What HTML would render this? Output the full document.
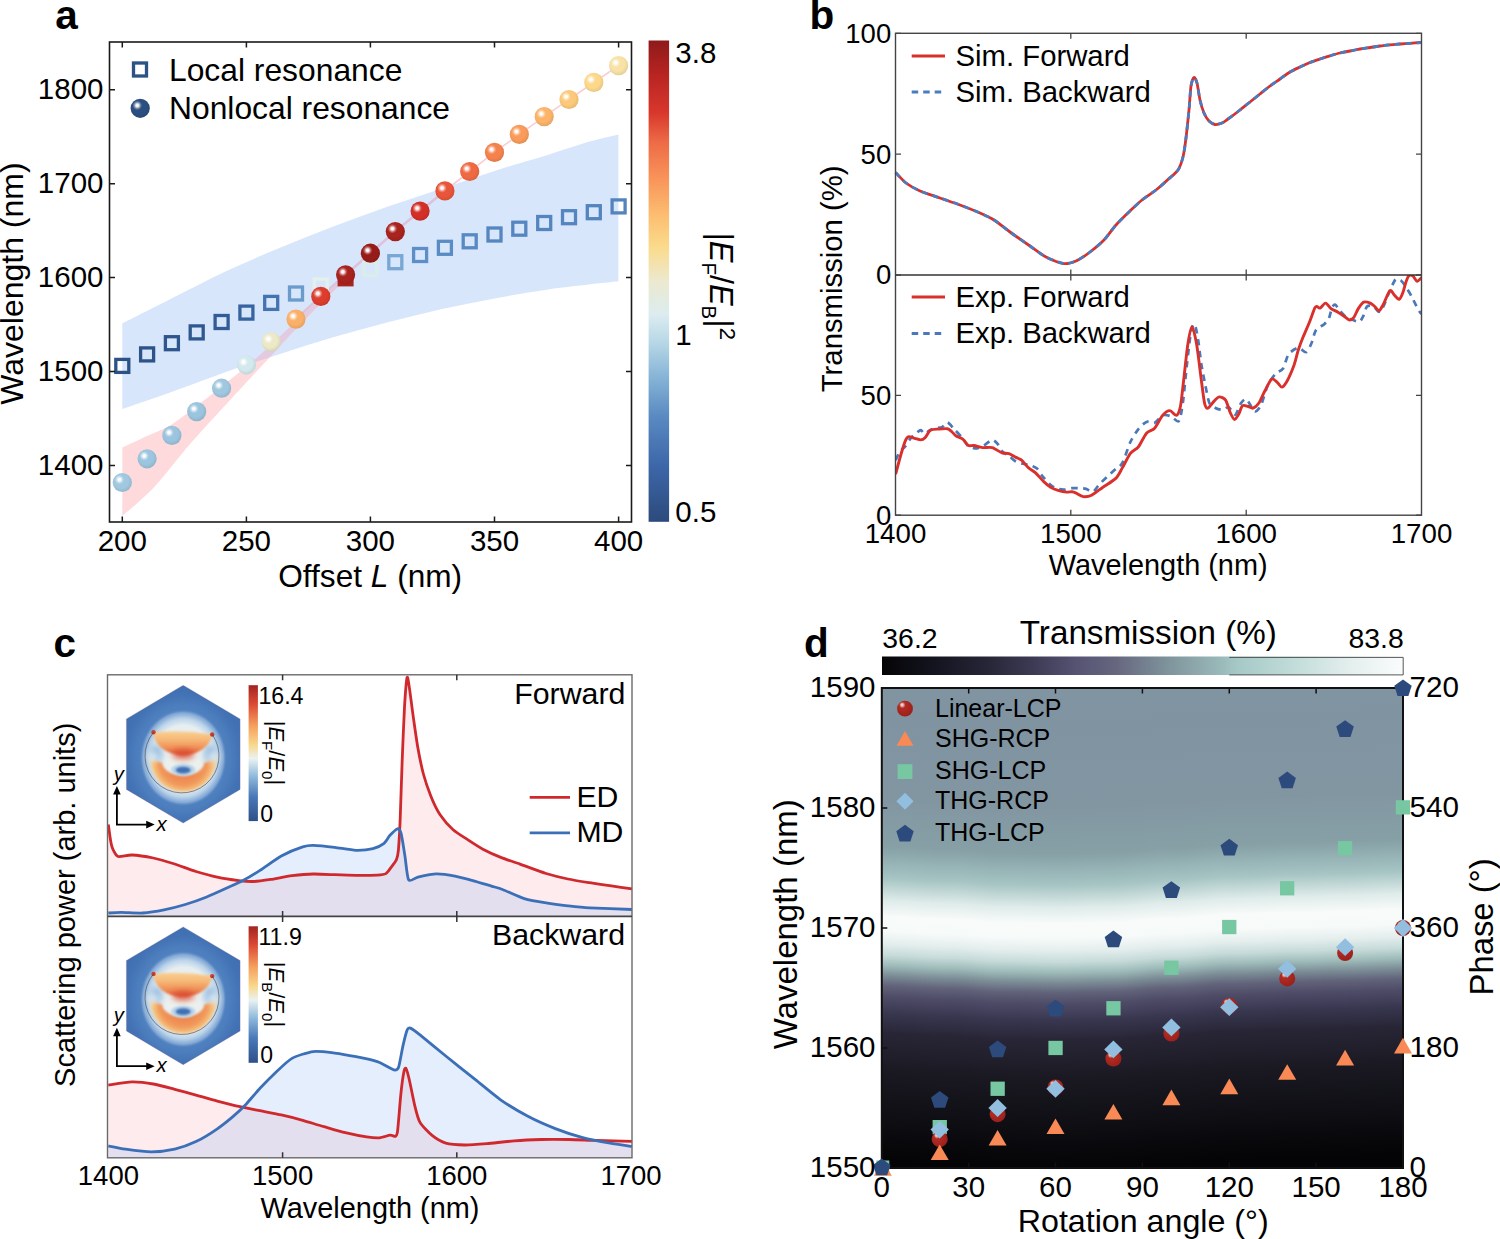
<!DOCTYPE html>
<html><head><meta charset="utf-8"><style>
html,body{margin:0;padding:0;background:#fff;}
svg{display:block;font-family:"Liberation Sans", sans-serif;}
</style></head><body>
<svg width="1500" height="1239" viewBox="0 0 1500 1239">
<defs><clipPath id="clipBlue"><path d="M122.3,323.4 C130.6,319.2 154.7,306.9 172,298.2 C189.3,289.5 208,279.6 226,271.2 C244,262.8 262,255.3 280,247.8 C298,240.3 316,233.1 334,226.2 C352,219.3 370,212.7 388,206.4 C406,200.1 424,194.4 442,188.4 C460,182.4 478,176.1 496,170.4 C514,164.7 534.4,159 550,154.2 C565.6,149.4 578.2,144.9 589.6,141.6 C601,138.3 613.6,135.6 618.4,134.4 L618.4,281.3 C607,282.6 570.4,286.4 550,289.2 C529.6,292 514,294.9 496,298.2 C478,301.5 460,305 442,309 C424,313 406,317.6 388,322.3 C370,327 352,331.8 334,337.1 C316,342.4 298,348.2 280,354 C262,359.8 244,365.7 226,372 C208,378.3 189.3,385.6 172,391.8 C154.7,398 130.6,406.2 122.3,409.1 Z"/></clipPath>
<radialGradient id="hl" cx="0.5" cy="0.5" r="0.5"><stop offset="0" stop-color="#fff"/><stop offset="0.3" stop-color="#fff" stop-opacity="0.92"/><stop offset="0.65" stop-color="#fff" stop-opacity="0.35"/><stop offset="1" stop-color="#fff" stop-opacity="0"/></radialGradient>
<radialGradient id="sa0" cx="0.45" cy="0.42" r="0.62"><stop offset="0.6" stop-color="#a0c8e0"/><stop offset="1" stop-color="#90b4c9"/></radialGradient>
<radialGradient id="sa1" cx="0.45" cy="0.42" r="0.62"><stop offset="0.6" stop-color="#9cc5df"/><stop offset="1" stop-color="#8cb1c8"/></radialGradient>
<radialGradient id="sa2" cx="0.45" cy="0.42" r="0.62"><stop offset="0.6" stop-color="#9cc4de"/><stop offset="1" stop-color="#8cb0c7"/></radialGradient>
<radialGradient id="sa3" cx="0.45" cy="0.42" r="0.62"><stop offset="0.6" stop-color="#9bc4de"/><stop offset="1" stop-color="#8bb0c7"/></radialGradient>
<radialGradient id="sa4" cx="0.45" cy="0.42" r="0.62"><stop offset="0.6" stop-color="#9fc7df"/><stop offset="1" stop-color="#8fb3c8"/></radialGradient>
<radialGradient id="sa5" cx="0.45" cy="0.42" r="0.62"><stop offset="0.6" stop-color="#d2e9ee"/><stop offset="1" stop-color="#bdd1d6"/></radialGradient>
<radialGradient id="sa6" cx="0.45" cy="0.42" r="0.62"><stop offset="0.6" stop-color="#ece9c8"/><stop offset="1" stop-color="#d4d1b4"/></radialGradient>
<radialGradient id="sa7" cx="0.45" cy="0.42" r="0.62"><stop offset="0.6" stop-color="#fbb06a"/><stop offset="1" stop-color="#e19e5f"/></radialGradient>
<radialGradient id="sa8" cx="0.45" cy="0.42" r="0.62"><stop offset="0.6" stop-color="#dd3d2d"/><stop offset="1" stop-color="#c63628"/></radialGradient>
<radialGradient id="sa9" cx="0.45" cy="0.42" r="0.62"><stop offset="0.6" stop-color="#a8221e"/><stop offset="1" stop-color="#971e1b"/></radialGradient>
<radialGradient id="sa10" cx="0.45" cy="0.42" r="0.62"><stop offset="0.6" stop-color="#971c19"/><stop offset="1" stop-color="#871916"/></radialGradient>
<radialGradient id="sa11" cx="0.45" cy="0.42" r="0.62"><stop offset="0.6" stop-color="#a9231f"/><stop offset="1" stop-color="#981f1b"/></radialGradient>
<radialGradient id="sa12" cx="0.45" cy="0.42" r="0.62"><stop offset="0.6" stop-color="#d42f27"/><stop offset="1" stop-color="#be2a23"/></radialGradient>
<radialGradient id="sa13" cx="0.45" cy="0.42" r="0.62"><stop offset="0.6" stop-color="#e8553a"/><stop offset="1" stop-color="#d04c34"/></radialGradient>
<radialGradient id="sa14" cx="0.45" cy="0.42" r="0.62"><stop offset="0.6" stop-color="#ef6a43"/><stop offset="1" stop-color="#d75f3c"/></radialGradient>
<radialGradient id="sa15" cx="0.45" cy="0.42" r="0.62"><stop offset="0.6" stop-color="#f5824d"/><stop offset="1" stop-color="#dc7545"/></radialGradient>
<radialGradient id="sa16" cx="0.45" cy="0.42" r="0.62"><stop offset="0.6" stop-color="#f99b5a"/><stop offset="1" stop-color="#e08b51"/></radialGradient>
<radialGradient id="sa17" cx="0.45" cy="0.42" r="0.62"><stop offset="0.6" stop-color="#fbb469"/><stop offset="1" stop-color="#e1a25e"/></radialGradient>
<radialGradient id="sa18" cx="0.45" cy="0.42" r="0.62"><stop offset="0.6" stop-color="#fcc97b"/><stop offset="1" stop-color="#e2b46e"/></radialGradient>
<radialGradient id="sa19" cx="0.45" cy="0.42" r="0.62"><stop offset="0.6" stop-color="#fdd88b"/><stop offset="1" stop-color="#e3c27d"/></radialGradient>
<radialGradient id="sa20" cx="0.45" cy="0.42" r="0.62"><stop offset="0.6" stop-color="#f8e2a6"/><stop offset="1" stop-color="#dfcb95"/></radialGradient>
<radialGradient id="saleg" cx="0.45" cy="0.42" r="0.62"><stop offset="0.6" stop-color="#2c4f80"/><stop offset="1" stop-color="#274773"/></radialGradient>
<linearGradient id="cba" x1="0" y1="1" x2="0" y2="0"><stop offset="0" stop-color="#2c4a7c"/><stop offset="0.12" stop-color="#3e68aa"/><stop offset="0.22" stop-color="#5a8ac2"/><stop offset="0.3" stop-color="#86b4d6"/><stop offset="0.37" stop-color="#b5d6e6"/><stop offset="0.43" stop-color="#dcecf0"/><stop offset="0.5" stop-color="#ece9cf"/><stop offset="0.57" stop-color="#fbdb8c"/><stop offset="0.64" stop-color="#fcbc70"/><stop offset="0.72" stop-color="#f89058"/><stop offset="0.79" stop-color="#ed6a46"/><stop offset="0.85" stop-color="#d8372c"/><stop offset="0.93" stop-color="#b72422"/><stop offset="1" stop-color="#8e1a1a"/></linearGradient>
<clipPath id="bclip"><rect x="895.5" y="275.0" width="526.0" height="240.20000000000005"/></clipPath>
<clipPath id="edclip0"><path d="M108.3,824.5 C108.6,826.3 110,837.1 110.5,840 C111,842.9 111.9,847.1 112.8,849 C113.7,850.9 115.9,855.8 118.1,856.5 C120.3,857.2 127.9,854.8 132,855 C136.1,855.2 148.3,857 153.3,858 C158.3,859 169.7,862.4 174.7,864 C179.7,865.6 191,870 196,871.5 C201,873 212.3,876.1 217.3,877.2 C222.3,878.3 234.5,880.1 238.7,880.6 C242.9,881.1 249.9,881.6 253.6,881.5 C257.3,881.4 266.2,880.1 270.7,879.4 C275.2,878.7 287,876.3 292,875.7 C297,875.1 308.3,874.1 313.3,874 C318.3,873.9 329.7,874.5 334.7,874.7 C339.7,874.9 351,875.3 356,875.3 C361,875.3 373.8,875.3 377.3,875.1 C380.8,874.9 384.3,874.5 385.9,873.6 C387.5,872.7 390,868.9 391.2,867.2 C392.4,865.5 395.7,861.4 396.5,859.4 C397.3,857.4 398,854.9 398.4,850.1 C398.8,845.3 399.8,828.8 400.2,818.6 C400.6,808.4 401.6,775.9 402.1,762.9 C402.6,749.9 403.9,717.1 404.5,707.1 C405.1,697.1 406.5,679.6 407.1,677.4 C407.7,675.2 408.8,684.1 409.5,688.6 C410.2,693.1 412.2,709.5 413.2,716.4 C414.2,723.3 416.7,741.3 417.9,748 C419.1,754.7 421.9,768.4 423.4,774 C424.9,779.6 429,791.5 430.9,796.3 C432.8,801.1 437.5,810.9 440.1,814.8 C442.7,818.7 449.8,826.8 453.1,829.7 C456.4,832.6 464.5,837.6 468,839.9 C471.5,842.2 479,847.1 482.9,849.2 C486.8,851.3 497.1,855.9 501.4,857.6 C505.7,859.3 514.8,862.2 520,864.1 C525.2,866 540.5,871.8 546.1,873.5 C551.7,875.2 562.8,877.9 567.9,879 C573,880.1 584.6,881.9 589.7,882.7 C594.8,883.5 606.5,885.2 611.4,885.9 C616.3,886.6 629.6,888.5 632,888.8 L632,916.4 L108.3,916.4 Z"/></clipPath>
<clipPath id="edclip1"><path d="M108.3,1085.1 C111.1,1084.7 126.8,1082 132,1081.9 C137.2,1081.8 148.3,1083.1 153.3,1084 C158.3,1084.9 169.7,1088 174.7,1089.3 C179.7,1090.6 191,1093.7 196,1095.1 C201,1096.5 212.3,1099.8 217.3,1101.1 C222.3,1102.4 233.7,1105.3 238.7,1106.4 C243.7,1107.5 255,1109.7 260,1110.7 C265,1111.7 276.3,1113.8 281.3,1114.9 C286.3,1116 297.7,1118.9 302.7,1120.3 C307.7,1121.7 319,1125.3 324,1126.7 C329,1128.1 340.3,1131.4 345.3,1132.6 C350.3,1133.8 362.7,1136.3 366.7,1136.9 C370.7,1137.5 376.8,1138 379.5,1137.8 C382.2,1137.6 388.2,1135.4 390.1,1135.2 C392,1135 394.6,1136.8 395.5,1136.3 C396.4,1135.8 397,1135.8 397.6,1130.9 C398.2,1126 400.1,1101.7 400.8,1094.7 C401.5,1087.7 403.4,1074.2 404,1071.2 C404.6,1068.2 405.5,1067.6 406.1,1068.6 C406.7,1069.6 408.3,1075.4 409.3,1079.7 C410.3,1084 413.5,1100.3 414.7,1105.3 C415.9,1110.3 418,1118.9 420,1122.4 C422,1125.9 429.1,1133 432.1,1135.4 C435.1,1137.8 442,1142 445.8,1143.1 C449.6,1144.2 460.2,1144.9 465,1145 C469.8,1145.1 481.2,1144.1 486.9,1143.6 C492.6,1143.1 507.8,1141.4 514.2,1140.9 C520.6,1140.4 535.2,1139.7 541.6,1139.5 C548,1139.3 562.6,1139.4 569,1139.5 C575.4,1139.6 589,1140.2 596.4,1140.4 C603.8,1140.6 627.8,1141.3 632,1141.4 L632,1157.8 L108.3,1157.8 Z"/></clipPath>
<linearGradient id="cbc" x1="0" y1="1" x2="0" y2="0"><stop offset="0" stop-color="#2e5088"/><stop offset="0.18" stop-color="#4a78b8"/><stop offset="0.33" stop-color="#8fbadb"/><stop offset="0.46" stop-color="#eaf2f2"/><stop offset="0.56" stop-color="#f8d88c"/><stop offset="0.7" stop-color="#f5a15e"/><stop offset="0.86" stop-color="#dc4b35"/><stop offset="1" stop-color="#a22420"/></linearGradient>
<filter id="blur3" x="-50%" y="-50%" width="200%" height="200%"><feGaussianBlur stdDeviation="3"/></filter>
<filter id="blur6" x="-50%" y="-50%" width="200%" height="200%"><feGaussianBlur stdDeviation="6"/></filter>
<filter id="blur1" x="-50%" y="-50%" width="200%" height="200%"><feGaussianBlur stdDeviation="1.2"/></filter>
<radialGradient id="halo" cx="0.5" cy="0.5" r="0.5"><stop offset="0" stop-color="#f1f3ec"/><stop offset="0.66" stop-color="#e6eef1"/><stop offset="0.8" stop-color="#bcd4ea"/><stop offset="0.92" stop-color="#7fa6d5"/><stop offset="1" stop-color="#4a7aba" stop-opacity="0"/></radialGradient>
<linearGradient id="cresg" x1="0" y1="0" x2="0" y2="1"><stop offset="0" stop-color="#f9d094"/><stop offset="0.35" stop-color="#f6b877"/><stop offset="0.7" stop-color="#ef8f56"/><stop offset="1" stop-color="#e0563a"/></linearGradient>
<clipPath id="hexc0"><path d="M183.2,685.3 L240.1,719 L240.1,789.4 L183.2,823.1 L126.4,789.4 L126.4,719 Z"/></clipPath>
<radialGradient id="ringg0" gradientUnits="userSpaceOnUse" cx="183.2" cy="760.8" r="33" gradientTransform="translate(0,0) scale(1,1) translate(0,0)"><stop offset="0.55" stop-color="#ee8a52"/><stop offset="0.75" stop-color="#f19a5c"/><stop offset="0.9" stop-color="#f5bd7a"/><stop offset="1" stop-color="#f8d593"/></radialGradient>
<clipPath id="hexc241"><path d="M183.2,926.9 L240.1,960.6 L240.1,1031 L183.2,1064.7 L126.4,1031 L126.4,960.6 Z"/></clipPath>
<radialGradient id="ringg241" gradientUnits="userSpaceOnUse" cx="183.2" cy="1002.4" r="33" gradientTransform="translate(0,0) scale(1,1) translate(0,0)"><stop offset="0.55" stop-color="#ee8a52"/><stop offset="0.75" stop-color="#f19a5c"/><stop offset="0.9" stop-color="#f5bd7a"/><stop offset="1" stop-color="#f8d593"/></radialGradient>
<linearGradient id="hm" gradientUnits="userSpaceOnUse" x1="0" y1="688" x2="0" y2="1168"><stop offset="0.0" stop-color="#8094a2"/><stop offset="0.085" stop-color="#7f93a1"/><stop offset="0.246" stop-color="#8296a2"/><stop offset="0.343" stop-color="#86a0a6"/><stop offset="0.408" stop-color="#a5c4c3"/><stop offset="0.456" stop-color="#dfecea"/><stop offset="0.489" stop-color="#f8fbfa"/><stop offset="0.52" stop-color="#f6faf9"/><stop offset="0.545" stop-color="#e4eeed"/><stop offset="0.569" stop-color="#c6dbda"/><stop offset="0.59" stop-color="#9fbcba"/><stop offset="0.612" stop-color="#7b8c96"/><stop offset="0.632" stop-color="#62647b"/><stop offset="0.655" stop-color="#4f4c68"/><stop offset="0.69" stop-color="#393750"/><stop offset="0.731" stop-color="#282636"/><stop offset="0.812" stop-color="#1a1922"/><stop offset="0.892" stop-color="#101016"/><stop offset="1.0" stop-color="#040406"/></linearGradient>
<clipPath id="dclip"><rect x="881.8" y="688.0" width="521.2" height="480.0"/></clipPath>
<rect id="hcol" x="0" y="620" width="3.3" height="620" fill="url(#hm)"/>
<radialGradient id="rbg" cx="0.42" cy="0.36" r="0.66" fx="0.3" fy="0.24"><stop offset="0" stop-color="#fbe9e6"/><stop offset="0.13" stop-color="#e9b2ab"/><stop offset="0.3" stop-color="#b02d24"/><stop offset="1" stop-color="#9c1f1a"/></radialGradient>
<linearGradient id="cbd" x1="0" y1="0" x2="1" y2="0"><stop offset="0" stop-color="#050507"/><stop offset="0.1" stop-color="#141420"/><stop offset="0.2" stop-color="#262536"/><stop offset="0.3" stop-color="#3f3d57"/><stop offset="0.37" stop-color="#555272"/><stop offset="0.45" stop-color="#66677f"/><stop offset="0.55" stop-color="#7f949c"/><stop offset="0.65" stop-color="#9ab9b9"/><stop offset="0.68" stop-color="#a5c8c6"/><stop offset="0.8" stop-color="#c4dedb"/><stop offset="0.9" stop-color="#e4efee"/><stop offset="1" stop-color="#fafcfc"/></linearGradient></defs>
<rect width="1500" height="1239" fill="#fff"/>
<path d="M122.3,323.4 C130.6,319.2 154.7,306.9 172,298.2 C189.3,289.5 208,279.6 226,271.2 C244,262.8 262,255.3 280,247.8 C298,240.3 316,233.1 334,226.2 C352,219.3 370,212.7 388,206.4 C406,200.1 424,194.4 442,188.4 C460,182.4 478,176.1 496,170.4 C514,164.7 534.4,159 550,154.2 C565.6,149.4 578.2,144.9 589.6,141.6 C601,138.3 613.6,135.6 618.4,134.4 L618.4,281.3 C607,282.6 570.4,286.4 550,289.2 C529.6,292 514,294.9 496,298.2 C478,301.5 460,305 442,309 C424,313 406,317.6 388,322.3 C370,327 352,331.8 334,337.1 C316,342.4 298,348.2 280,354 C262,359.8 244,365.7 226,372 C208,378.3 189.3,385.6 172,391.8 C154.7,398 130.6,406.2 122.3,409.1 Z" fill="#d8e6fc"/>
<path d="M122.3,447.6 C126.4,445.7 138.7,439.9 147,436 C155.3,432.1 161.8,430.7 172,424.2 C182.2,417.7 196,406.5 208,397.2 C220,387.9 233.8,376.8 244,368.4 C254.2,359.9 260.6,354.3 269.2,346.5 C277.8,338.7 287,329.5 295.5,321.5 C304,313.5 312.1,306 320.3,298.5 C328.6,291 340.9,280.2 345,276.5 L345,280.5 C340.9,284.4 328.6,295.8 320.3,304 C312.1,312.2 303.8,320.8 295.5,329.5 C287.2,338.2 278,348.6 270.6,356.5 C263.2,364.4 258.6,369.2 251.2,377.2 C243.8,385.2 236.2,393.3 226,404.4 C215.8,415.5 202,430.2 190,444 C178,457.8 165.3,475.2 154,487.2 C142.7,499.2 127.6,511.2 122.3,516 Z" fill="#fedadc"/>
<path d="M122.3,447.6 C126.4,445.7 138.7,439.9 147,436 C155.3,432.1 161.8,430.7 172,424.2 C182.2,417.7 196,406.5 208,397.2 C220,387.9 233.8,376.8 244,368.4 C254.2,359.9 260.6,354.3 269.2,346.5 C277.8,338.7 287,329.5 295.5,321.5 C304,313.5 312.1,306 320.3,298.5 C328.6,291 340.9,280.2 345,276.5 L345,280.5 C340.9,284.4 328.6,295.8 320.3,304 C312.1,312.2 303.8,320.8 295.5,329.5 C287.2,338.2 278,348.6 270.6,356.5 C263.2,364.4 258.6,369.2 251.2,377.2 C243.8,385.2 236.2,393.3 226,404.4 C215.8,415.5 202,430.2 190,444 C178,457.8 165.3,475.2 154,487.2 C142.7,499.2 127.6,511.2 122.3,516 Z" fill="#e2cbe1" clip-path="url(#clipBlue)"/>
<path d="M296,319.1 C300.1,315.3 312.5,303.8 320.8,296.4 C329.1,289 337.4,282 345.6,274.8 C353.9,267.6 362.2,260.4 370.4,253.2 C378.7,246 387,238.6 395.3,231.6 C403.5,224.6 411.8,217.9 420.1,211.1 C428.4,204.3 436.6,197.5 444.9,190.9 C453.2,184.3 461.4,177.9 469.7,171.5 C478,165.1 486.3,158.6 494.5,152.4 C502.8,146.2 511.1,140.4 519.3,134.4 C527.6,128.4 535.9,122.4 544.2,116.6 C552.4,110.8 560.7,105.2 569,99.5 C577.2,93.8 585.5,88.1 593.8,82.4 C602.1,76.8 614.5,68.4 618.6,65.6" fill="none" stroke="#f9cdd1" stroke-width="1.6"/>
<path d="M296,319.1 C300.1,315.3 312.5,303.8 320.8,296.4 C329.1,289 337.4,282 345.6,274.8 C353.9,267.6 362.2,260.4 370.4,253.2 C378.7,246 387,238.6 395.3,231.6 C403.5,224.6 411.8,217.9 420.1,211.1 C428.4,204.3 440.8,194.3 444.9,190.9" fill="none" stroke="#dcc3dc" stroke-width="2.6" clip-path="url(#clipBlue)"/>
<rect x="115.8" y="359.4" width="13" height="13" fill="none" stroke="#2c5286" stroke-width="3.3"/>
<rect x="140.6" y="347.9" width="13" height="13" fill="none" stroke="#2d5389" stroke-width="3.3"/>
<rect x="165.4" y="336.7" width="13" height="13" fill="none" stroke="#2e558c" stroke-width="3.3"/>
<rect x="190.2" y="325.9" width="13" height="13" fill="none" stroke="#30588f" stroke-width="3.3"/>
<rect x="215.1" y="315.5" width="13" height="13" fill="none" stroke="#325c95" stroke-width="3.3"/>
<rect x="239.9" y="306.1" width="13" height="13" fill="none" stroke="#3764a0" stroke-width="3.3"/>
<rect x="264.7" y="296.4" width="13" height="13" fill="none" stroke="#4373b0" stroke-width="3.3"/>
<rect x="289.5" y="287" width="13" height="13" fill="none" stroke="#6a9bcb" stroke-width="3.3"/>
<rect x="314.3" y="279.1" width="13" height="13" fill="none" stroke="#e3f1ec" stroke-width="3.3"/>
<rect x="337.6" y="270.4" width="16" height="16" fill="#a8221e"/>
<rect x="363.9" y="262.2" width="13" height="13" fill="none" stroke="#d9eee9" stroke-width="3.3"/>
<rect x="388.8" y="255.7" width="13" height="13" fill="none" stroke="#78a7d4" stroke-width="3.3"/>
<rect x="413.6" y="248.5" width="13" height="13" fill="none" stroke="#5d8fc6" stroke-width="3.3"/>
<rect x="438.4" y="241.3" width="13" height="13" fill="none" stroke="#5a8cc4" stroke-width="3.3"/>
<rect x="463.2" y="234.8" width="13" height="13" fill="none" stroke="#5889c2" stroke-width="3.3"/>
<rect x="488" y="228" width="13" height="13" fill="none" stroke="#5686c0" stroke-width="3.3"/>
<rect x="512.8" y="222.2" width="13" height="13" fill="none" stroke="#5686c0" stroke-width="3.3"/>
<rect x="537.7" y="216.5" width="13" height="13" fill="none" stroke="#5585bf" stroke-width="3.3"/>
<rect x="562.5" y="210.7" width="13" height="13" fill="none" stroke="#5585bf" stroke-width="3.3"/>
<rect x="587.3" y="205.7" width="13" height="13" fill="none" stroke="#5484be" stroke-width="3.3"/>
<rect x="612.1" y="199.9" width="13" height="13" fill="none" stroke="#5484be" stroke-width="3.3"/>
<circle cx="122.3" cy="482.5" r="9.6" fill="url(#sa0)"/>
<circle cx="119.4" cy="479.6" r="4.8" fill="url(#hl)"/>
<circle cx="147.1" cy="458.8" r="9.6" fill="url(#sa1)"/>
<circle cx="144.2" cy="455.9" r="4.8" fill="url(#hl)"/>
<circle cx="171.9" cy="435.4" r="9.6" fill="url(#sa2)"/>
<circle cx="169.1" cy="432.5" r="4.8" fill="url(#hl)"/>
<circle cx="196.7" cy="411.6" r="9.6" fill="url(#sa3)"/>
<circle cx="193.9" cy="408.7" r="4.8" fill="url(#hl)"/>
<circle cx="221.6" cy="388.2" r="9.6" fill="url(#sa4)"/>
<circle cx="218.7" cy="385.3" r="4.8" fill="url(#hl)"/>
<circle cx="246.4" cy="364.8" r="9.6" fill="url(#sa5)"/>
<circle cx="243.5" cy="361.9" r="4.8" fill="url(#hl)"/>
<circle cx="271.2" cy="341.8" r="9.6" fill="url(#sa6)"/>
<circle cx="268.3" cy="338.9" r="4.8" fill="url(#hl)"/>
<circle cx="296" cy="319.1" r="9.6" fill="url(#sa7)"/>
<circle cx="293.1" cy="316.2" r="4.8" fill="url(#hl)"/>
<circle cx="320.8" cy="296.4" r="9.6" fill="url(#sa8)"/>
<circle cx="317.9" cy="293.5" r="4.8" fill="url(#hl)"/>
<circle cx="345.6" cy="274.8" r="9.6" fill="url(#sa9)"/>
<circle cx="342.8" cy="271.9" r="4.8" fill="url(#hl)"/>
<circle cx="370.4" cy="253.2" r="9.6" fill="url(#sa10)"/>
<circle cx="367.6" cy="250.3" r="4.8" fill="url(#hl)"/>
<circle cx="395.3" cy="231.6" r="9.6" fill="url(#sa11)"/>
<circle cx="392.4" cy="228.7" r="4.8" fill="url(#hl)"/>
<circle cx="420.1" cy="211.1" r="9.6" fill="url(#sa12)"/>
<circle cx="417.2" cy="208.2" r="4.8" fill="url(#hl)"/>
<circle cx="444.9" cy="190.9" r="9.6" fill="url(#sa13)"/>
<circle cx="442" cy="188" r="4.8" fill="url(#hl)"/>
<circle cx="469.7" cy="171.5" r="9.6" fill="url(#sa14)"/>
<circle cx="466.8" cy="168.6" r="4.8" fill="url(#hl)"/>
<circle cx="494.5" cy="152.4" r="9.6" fill="url(#sa15)"/>
<circle cx="491.6" cy="149.5" r="4.8" fill="url(#hl)"/>
<circle cx="519.3" cy="134.4" r="9.6" fill="url(#sa16)"/>
<circle cx="516.5" cy="131.5" r="4.8" fill="url(#hl)"/>
<circle cx="544.2" cy="116.6" r="9.6" fill="url(#sa17)"/>
<circle cx="541.3" cy="113.7" r="4.8" fill="url(#hl)"/>
<circle cx="569" cy="99.5" r="9.6" fill="url(#sa18)"/>
<circle cx="566.1" cy="96.6" r="4.8" fill="url(#hl)"/>
<circle cx="593.8" cy="82.4" r="9.6" fill="url(#sa19)"/>
<circle cx="590.9" cy="79.5" r="4.8" fill="url(#hl)"/>
<circle cx="618.6" cy="65.6" r="9.6" fill="url(#sa20)"/>
<circle cx="615.7" cy="62.7" r="4.8" fill="url(#hl)"/>
<rect x="109.5" y="42.0" width="522.0" height="480.0" fill="none" stroke="#1a1a1a" stroke-width="1.6"/>
<text x="103.5" y="474.8" font-size="29.5" text-anchor="end" font-weight="normal" font-style="normal" fill="#000" >1400</text>
<text x="103.5" y="380.9" font-size="29.5" text-anchor="end" font-weight="normal" font-style="normal" fill="#000" >1500</text>
<text x="103.5" y="286.9" font-size="29.5" text-anchor="end" font-weight="normal" font-style="normal" fill="#000" >1600</text>
<text x="103.5" y="193" font-size="29.5" text-anchor="end" font-weight="normal" font-style="normal" fill="#000" >1700</text>
<text x="103.5" y="99" font-size="29.5" text-anchor="end" font-weight="normal" font-style="normal" fill="#000" >1800</text>
<text x="122.3" y="551.2" font-size="29.5" text-anchor="middle" font-weight="normal" font-style="normal" fill="#000" >200</text>
<text x="246.4" y="551.2" font-size="29.5" text-anchor="middle" font-weight="normal" font-style="normal" fill="#000" >250</text>
<text x="370.4" y="551.2" font-size="29.5" text-anchor="middle" font-weight="normal" font-style="normal" fill="#000" >300</text>
<text x="494.5" y="551.2" font-size="29.5" text-anchor="middle" font-weight="normal" font-style="normal" fill="#000" >350</text>
<text x="618.6" y="551.2" font-size="29.5" text-anchor="middle" font-weight="normal" font-style="normal" fill="#000" >400</text>
<path d="M109.5,465.5 h5.5 M631.5,465.5 h-5.5 M109.5,371.6 h5.5 M631.5,371.6 h-5.5 M109.5,277.6 h5.5 M631.5,277.6 h-5.5 M109.5,183.7 h5.5 M631.5,183.7 h-5.5 M109.5,89.7 h5.5 M631.5,89.7 h-5.5 M122.3,522.0 v-5.5 M122.3,42.0 v5.5 M246.4,522.0 v-5.5 M246.4,42.0 v5.5 M370.4,522.0 v-5.5 M370.4,42.0 v5.5 M494.5,522.0 v-5.5 M494.5,42.0 v5.5 M618.6,522.0 v-5.5 M618.6,42.0 v5.5" stroke="#1a1a1a" stroke-width="1.5" fill="none"/>
<text x="370.2" y="586.8" font-size="31.6" text-anchor="middle" font-weight="normal" font-style="normal" fill="#000" >Offset <tspan font-style="italic">L</tspan> (nm)</text>
<text transform="translate(22.9,283.6) rotate(-90) scale(1.0,1)" font-size="32" text-anchor="middle">Wavelength (nm)</text>
<rect x="133.5" y="63" width="13" height="13" fill="none" stroke="#2c5286" stroke-width="3.3"/>
<text x="169" y="80.7" font-size="31.8" text-anchor="start" font-weight="normal" font-style="normal" fill="#000" >Local resonance</text>
<circle cx="140.2" cy="108.3" r="9.6" fill="url(#saleg)"/>
<circle cx="137.3" cy="105.4" r="4.8" fill="url(#hl)"/>
<text x="169" y="119" font-size="31.8" text-anchor="start" font-weight="normal" font-style="normal" fill="#000" >Nonlocal resonance</text>
<rect x="648.6" y="40.5" width="20.5" height="481.3" fill="url(#cba)"/>
<text x="675.3" y="63" font-size="29.5" text-anchor="start" font-weight="normal" font-style="normal" fill="#000" >3.8</text>
<text x="675.3" y="345" font-size="29.5" text-anchor="start" font-weight="normal" font-style="normal" fill="#000" >1</text>
<text x="675.3" y="522" font-size="29.5" text-anchor="start" font-weight="normal" font-style="normal" fill="#000" >0.5</text>
<text transform="translate(710.3,232.4) rotate(90)" font-size="32.4"><tspan>|</tspan><tspan font-style="italic">E</tspan><tspan font-size="20.5" dy="7.9">F</tspan><tspan dy="-7.9">/</tspan><tspan font-style="italic">E</tspan><tspan font-size="20.5" dy="7.9">B</tspan><tspan dy="-7.9">|</tspan><tspan font-size="22" dy="-9.7">2</tspan></text>
<text x="55.3" y="29" font-size="40.5" text-anchor="start" font-weight="bold" font-style="normal" fill="#000" >a</text>
<path d="M895.6,172.5 C897,173.9 902.7,180.5 906,183 C909.3,185.5 915.5,189 920,191 C924.5,193 934.7,196.1 940,198 C945.3,199.9 954.7,203 960,205 C965.3,207 975.5,211 980,213 C984.5,215 990,217.5 994,220 C998,222.5 1005.2,228.5 1010,232 C1014.8,235.5 1025.2,242.7 1030,246 C1034.8,249.3 1041.5,254.7 1046,257 C1050.5,259.3 1060,263.1 1064,263.6 C1068,264.1 1072.5,262.5 1076,261 C1079.5,259.5 1086.3,254.8 1090,252 C1093.7,249.2 1100.5,243.6 1104,240 C1107.5,236.4 1112.5,228.9 1116,225 C1119.5,221.1 1126.5,214.3 1130,211 C1133.5,207.7 1138.5,202.8 1142,200 C1145.5,197.2 1152.5,192.7 1156,190 C1159.5,187.3 1165.1,182.2 1168,179.5 C1170.9,176.8 1176,173 1178,170 C1180,167 1181.9,161.3 1183,157 C1184.1,152.7 1185.2,144.3 1186,138 C1186.8,131.7 1188.3,116.9 1189,110 C1189.7,103.1 1190.3,90.3 1191,86 C1191.7,81.7 1193.2,77.9 1194,77.5 C1194.8,77.1 1196.2,80 1197,83 C1197.8,86 1199.1,96 1200,100 C1200.9,104 1202.8,110.2 1204,113 C1205.2,115.8 1207.5,119.5 1209,121 C1210.5,122.5 1213.3,124.2 1215,124.5 C1216.7,124.8 1220.3,123.7 1222,123 C1223.7,122.3 1225.6,120.7 1228,119 C1230.4,117.3 1237.1,112.3 1240,110 C1242.9,107.7 1247.3,104.1 1250,102 C1252.7,99.9 1257.3,96.1 1260,94 C1262.7,91.9 1267.3,88 1270,86 C1272.7,84 1277.3,80.9 1280,79 C1282.7,77.1 1287.3,73.6 1290,72 C1292.7,70.4 1297.3,68.3 1300,67 C1302.7,65.7 1307.3,63.6 1310,62.5 C1312.7,61.4 1317.3,59.9 1320,59 C1322.7,58.1 1327.3,56.6 1330,55.8 C1332.7,55 1337.3,53.6 1340,53 C1342.7,52.4 1347.3,51.5 1350,51 C1352.7,50.5 1357.3,49.5 1360,49 C1362.7,48.5 1367.3,47.9 1370,47.5 C1372.7,47.1 1377.3,46.4 1380,46 C1382.7,45.6 1387.3,45.1 1390,44.8 C1392.7,44.5 1397.3,44.2 1400,44 C1402.7,43.8 1407.2,43.5 1410,43.3 C1412.8,43.1 1419.5,42.6 1421,42.5" fill="none" stroke="#d9302c" stroke-width="2.8"/>
<path d="M895.6,172.5 C897,173.9 902.7,180.5 906,183 C909.3,185.5 915.5,189 920,191 C924.5,193 934.7,196.1 940,198 C945.3,199.9 954.7,203 960,205 C965.3,207 975.5,211 980,213 C984.5,215 990,217.5 994,220 C998,222.5 1005.2,228.5 1010,232 C1014.8,235.5 1025.2,242.7 1030,246 C1034.8,249.3 1041.5,254.7 1046,257 C1050.5,259.3 1060,263.1 1064,263.6 C1068,264.1 1072.5,262.5 1076,261 C1079.5,259.5 1086.3,254.8 1090,252 C1093.7,249.2 1100.5,243.6 1104,240 C1107.5,236.4 1112.5,228.9 1116,225 C1119.5,221.1 1126.5,214.3 1130,211 C1133.5,207.7 1138.5,202.8 1142,200 C1145.5,197.2 1152.5,192.7 1156,190 C1159.5,187.3 1165.1,182.2 1168,179.5 C1170.9,176.8 1176,173 1178,170 C1180,167 1181.9,161.3 1183,157 C1184.1,152.7 1185.2,144.3 1186,138 C1186.8,131.7 1188.3,116.9 1189,110 C1189.7,103.1 1190.3,90.3 1191,86 C1191.7,81.7 1193.2,77.9 1194,77.5 C1194.8,77.1 1196.2,80 1197,83 C1197.8,86 1199.1,96 1200,100 C1200.9,104 1202.8,110.2 1204,113 C1205.2,115.8 1207.5,119.5 1209,121 C1210.5,122.5 1213.3,124.2 1215,124.5 C1216.7,124.8 1220.3,123.7 1222,123 C1223.7,122.3 1225.6,120.7 1228,119 C1230.4,117.3 1237.1,112.3 1240,110 C1242.9,107.7 1247.3,104.1 1250,102 C1252.7,99.9 1257.3,96.1 1260,94 C1262.7,91.9 1267.3,88 1270,86 C1272.7,84 1277.3,80.9 1280,79 C1282.7,77.1 1287.3,73.6 1290,72 C1292.7,70.4 1297.3,68.3 1300,67 C1302.7,65.7 1307.3,63.6 1310,62.5 C1312.7,61.4 1317.3,59.9 1320,59 C1322.7,58.1 1327.3,56.6 1330,55.8 C1332.7,55 1337.3,53.6 1340,53 C1342.7,52.4 1347.3,51.5 1350,51 C1352.7,50.5 1357.3,49.5 1360,49 C1362.7,48.5 1367.3,47.9 1370,47.5 C1372.7,47.1 1377.3,46.4 1380,46 C1382.7,45.6 1387.3,45.1 1390,44.8 C1392.7,44.5 1397.3,44.2 1400,44 C1402.7,43.8 1407.2,43.5 1410,43.3 C1412.8,43.1 1419.5,42.6 1421,42.5" fill="none" stroke="#4a7cc0" stroke-width="2.8" stroke-dasharray="6 5"/>
<g clip-path="url(#bclip)">
<path d="M895.6,460.2 C896.2,459.1 898.5,453.7 899.8,451.8 C901.1,449.9 903.9,448.1 905.4,446.2 C906.9,444.3 909.5,439.6 911,437.8 C912.5,436 915.3,433.9 916.6,432.9 C917.9,431.9 919.8,430 920.8,430.1 C921.8,430.2 923.2,433.5 924.3,433.6 C925.4,433.7 927.8,431.5 929.2,430.8 C930.6,430.1 933.1,428.5 934.8,428 C936.5,427.5 940.1,428 941.8,427.3 C943.5,426.6 945.7,422.1 947.4,422.4 C949.1,422.7 952.3,427.3 954.4,429.4 C956.5,431.5 960.9,436.3 962.8,438.5 C964.7,440.7 966.5,444.9 968.4,446.2 C970.3,447.5 974.7,448.4 976.8,448.3 C978.9,448.2 981.7,446.6 983.8,445.5 C985.9,444.4 990.3,440.1 992.2,439.9 C994.1,439.7 996.5,442.6 997.8,444.1 C999.1,445.6 1000.5,449.5 1002,451.1 C1003.5,452.7 1007.1,454.6 1009,456 C1010.9,457.4 1014.1,460.6 1016,461.6 C1017.9,462.6 1021.1,463.2 1023,463.7 C1024.9,464.2 1028.1,464.4 1030,465.1 C1031.9,465.8 1035.3,467.1 1037,468.6 C1038.7,470.1 1040.7,474.1 1042.6,476.3 C1044.5,478.5 1048.9,483.7 1051,485.4 C1053.1,487.1 1056.1,488.3 1058,488.9 C1059.9,489.5 1063.1,489.7 1065,489.6 C1066.9,489.5 1070.1,488.4 1072,488.2 C1073.9,488 1077.1,488.1 1079,488.2 C1080.9,488.3 1084.1,488.4 1086,488.9 C1087.9,489.4 1091.2,492.4 1093,491.7 C1094.8,491 1096.9,486.9 1099.7,484 C1102.5,481.1 1111.2,473.1 1114.2,470.3 C1117.2,467.5 1120.1,466.8 1122.3,463 C1124.5,459.2 1128.3,446.5 1130.4,442 C1132.5,437.5 1136.3,431.8 1138.4,429.1 C1140.5,426.4 1144.3,422.8 1146.5,421.9 C1148.7,421 1152.5,423.6 1154.6,422.7 C1156.7,421.8 1160.5,416.3 1162.6,415.4 C1164.7,414.5 1168.5,415.4 1170.7,416.2 C1172.9,417 1177.2,422.8 1178.8,421.1 C1180.4,419.4 1181.7,410.8 1182.8,403.3 C1183.9,395.8 1185.8,374.1 1186.9,364.6 C1188,355.1 1189.9,337.7 1190.9,332.3 C1191.9,326.9 1193.6,323.1 1194.6,324.2 C1195.6,325.3 1197.3,335 1198.2,340.4 C1199.1,345.8 1200.4,358.6 1201.4,364.6 C1202.4,370.6 1204.3,380.4 1205.4,385.6 C1206.5,390.8 1208.1,400.3 1209.5,403.3 C1210.9,406.3 1214.2,407.3 1215.9,408.2 C1217.6,409.1 1220.7,409.9 1222.4,409.8 C1224.1,409.7 1227.1,406.7 1228.8,407.3 C1230.5,407.9 1233.7,415.1 1235.3,414.6 C1236.9,414.1 1239.4,405.3 1240.9,403.3 C1242.4,401.3 1244.8,398.2 1246.6,399.3 C1248.4,400.4 1252.7,410.7 1254.6,411.4 C1256.5,412.1 1259.4,408.3 1261.1,404.9 C1262.8,401.5 1265.7,389.7 1267.6,385.6 C1269.5,381.5 1273.3,376.3 1275.4,374 C1277.5,371.7 1281.4,371.1 1283.1,368.5 C1284.8,365.9 1286.5,357.2 1288.5,354.4 C1290.5,351.6 1296,348.1 1298.3,347.8 C1300.6,347.5 1304.3,352.8 1306,352.2 C1307.7,351.6 1310.1,346.4 1311.4,343.5 C1312.7,340.6 1314.1,333 1315.8,330.4 C1317.5,327.8 1322.8,325.5 1324.5,323.9 C1326.2,322.3 1327.9,320.6 1328.9,318.4 C1329.9,316.2 1331.2,309.3 1332.1,307.5 C1333,305.7 1334.4,304.4 1335.4,304.8 C1336.4,305.2 1338.3,309.1 1339.8,310.8 C1341.3,312.5 1344.7,316.1 1346.3,317.3 C1347.9,318.5 1350,318.9 1351.7,319.5 C1353.4,320.1 1357.8,322.3 1359.4,321.7 C1361,321.1 1362.7,317.1 1363.7,315.1 C1364.7,313.1 1365.7,307.6 1367,306.4 C1368.3,305.2 1371.9,305.7 1373.5,306.4 C1375.1,307.1 1377.7,311.9 1379,311.9 C1380.3,311.9 1382.1,308.9 1383.4,306.4 C1384.7,303.9 1387.2,296.9 1388.8,293.3 C1390.4,289.7 1393.7,281.4 1395.3,279.7 C1396.9,278 1399.5,279.5 1400.8,280.3 C1402.1,281.1 1403.6,283.5 1405.1,285.7 C1406.6,287.9 1410,293.4 1411.7,296.6 C1413.4,299.8 1416.9,307.4 1418.2,309.7 C1419.5,312 1421.1,313.4 1421.5,314" fill="none" stroke="#4a78b8" stroke-width="2.7" stroke-dasharray="6.5 5.5"/>
<path d="M895.6,474.2 C896.3,471.8 899.2,460.5 900.5,456 C901.8,451.5 904.3,443.2 905.4,440.6 C906.5,438 907.8,437 908.9,436.7 C910,436.4 912.2,437.7 913.8,438.1 C915.4,438.5 919.3,439.9 920.8,439.9 C922.3,439.9 923.7,439.1 925,437.8 C926.3,436.5 928.7,431.3 930.6,430.1 C932.5,428.9 936.8,429.2 939,429 C941.2,428.8 945.7,428.4 947.4,428.7 C949.1,429 950.5,430.6 951.6,431.5 C952.7,432.4 954.3,434.7 955.8,435.7 C957.3,436.7 961.1,437.9 962.8,439.2 C964.5,440.5 966.9,444.7 968.4,445.5 C969.9,446.3 972.1,445.2 974,445.5 C975.9,445.8 980,447.3 982.4,447.6 C984.8,447.9 989.6,446.9 992.2,447.6 C994.8,448.3 999.8,452.1 1002,452.9 C1004.2,453.7 1007.1,453 1009,453.6 C1010.9,454.2 1014.3,456.5 1016,457.4 C1017.7,458.3 1019.9,458.8 1021.6,460.2 C1023.3,461.6 1026.7,466.2 1028.6,467.9 C1030.5,469.6 1033.5,470.9 1035.6,472.8 C1037.7,474.7 1041.9,479.9 1044,481.9 C1046.1,483.9 1049.1,486.4 1051,487.5 C1052.9,488.6 1055.9,489.7 1058,490.3 C1060.1,490.9 1064.5,491.9 1066.4,492.1 C1068.3,492.3 1070.7,491.6 1072,491.7 C1073.3,491.8 1074.7,492.4 1076.2,493.1 C1077.7,493.8 1081.1,496.3 1083.2,496.6 C1085.3,496.9 1089,496.5 1091.6,495.2 C1094.2,493.9 1099.7,489.4 1102.9,487.2 C1106.1,485 1113.2,481 1115.8,478.4 C1118.4,475.8 1120.4,471.2 1122.3,467.9 C1124.2,464.6 1128.3,456.2 1130.4,453.4 C1132.5,450.6 1136.3,449.6 1138.4,446.9 C1140.5,444.2 1144.3,435.7 1146.5,433.2 C1148.7,430.7 1152.5,430.7 1154.6,428.3 C1156.7,425.9 1160.6,417.8 1162.6,415.4 C1164.6,413 1168.1,410.6 1169.9,410.6 C1171.7,410.6 1175,415.9 1176.4,415.4 C1177.8,414.9 1179.4,411.1 1180.4,406.5 C1181.4,401.9 1182.6,388.9 1183.6,380.7 C1184.6,372.5 1186.6,352.4 1187.7,345.2 C1188.8,338 1190.8,326.8 1192,326.6 C1193.2,326.4 1195.2,336.4 1196.5,343.6 C1197.8,350.8 1200.3,372.7 1201.4,380.7 C1202.5,388.7 1203.7,399.6 1204.6,403.3 C1205.5,407 1206.5,408.5 1207.8,408.2 C1209.1,407.9 1212.8,402.4 1214.3,400.9 C1215.8,399.4 1217.6,397 1219.1,396.9 C1220.6,396.8 1224.1,398 1225.6,400.1 C1227.1,402.2 1229.2,410.4 1230.4,413 C1231.6,415.6 1233.4,419.3 1234.5,419.5 C1235.6,419.7 1237.4,416.4 1238.5,414.6 C1239.6,412.8 1241.2,406.8 1242.5,405.7 C1243.8,404.6 1246.8,406.2 1248.2,406.5 C1249.6,406.8 1251.6,408.6 1253,408.2 C1254.4,407.8 1257.2,405.5 1258.7,403.3 C1260.2,401.1 1262.6,395.2 1264.3,392 C1266,388.8 1269.9,380.4 1271.6,379.1 C1273.3,377.8 1275.8,381.2 1277.2,382.3 C1278.6,383.4 1280.6,387.3 1282,387.1 C1283.4,386.9 1285.8,383.4 1287.4,380.5 C1289,377.6 1292.5,369.4 1294,365.3 C1295.5,361.2 1297.1,353.6 1298.3,350 C1299.5,346.4 1301.2,341.6 1302.7,338 C1304.2,334.4 1307.6,326.8 1309.2,322.8 C1310.8,318.8 1313.7,310.3 1314.7,308.1 C1315.7,305.9 1316.2,306.4 1316.9,306.4 C1317.6,306.4 1318.9,308.5 1320.1,308.1 C1321.3,307.7 1324.1,303 1325.6,303.1 C1327.1,303.2 1329.4,307.4 1331,308.6 C1332.6,309.8 1335.9,310.9 1337.6,311.9 C1339.3,312.9 1342.5,315.1 1344.1,316.2 C1345.7,317.3 1348.3,319.9 1349.6,320 C1350.9,320.1 1352.7,318.8 1353.9,317.3 C1355.1,315.8 1357,310.6 1358.3,308.6 C1359.6,306.6 1362.1,302.8 1363.7,302.1 C1365.3,301.4 1368.8,302.5 1370.3,303.1 C1371.8,303.7 1373.4,305.4 1374.6,306.4 C1375.8,307.4 1377.8,311.1 1379,310.8 C1380.2,310.5 1381.9,306.9 1383.4,304.2 C1384.9,301.5 1388.4,291.8 1389.9,290.6 C1391.4,289.4 1393.1,293.8 1394.3,295 C1395.5,296.2 1398,299.7 1399.2,299.3 C1400.4,298.9 1402.1,294.6 1403,292.2 C1403.9,289.8 1405.4,283.5 1406.2,281.3 C1407,279.1 1408.1,276.2 1409,275.5 C1409.9,274.8 1411.7,275 1412.8,275.8 C1413.9,276.6 1415.9,281.1 1417.1,281.3 C1418.3,281.5 1420.9,278 1421.5,277.5" fill="none" stroke="#d9302c" stroke-width="2.9"/>
</g>
<rect x="895.5" y="33.3" width="526.0" height="481.90000000000003" fill="none" stroke="#444" stroke-width="1.4"/>
<path d="M895.5,275.0 H1421.5" stroke="#333" stroke-width="1.6"/>
<text x="891.2" y="284.3" font-size="27.5" text-anchor="end" font-weight="normal" font-style="normal" fill="#000" >0</text>
<text x="891.2" y="163.5" font-size="27.5" text-anchor="end" font-weight="normal" font-style="normal" fill="#000" >50</text>
<text x="891.2" y="42.6" font-size="27.5" text-anchor="end" font-weight="normal" font-style="normal" fill="#000" >100</text>
<text x="891.2" y="524.5" font-size="27.5" text-anchor="end" font-weight="normal" font-style="normal" fill="#000" >0</text>
<text x="891.2" y="404.7" font-size="27.5" text-anchor="end" font-weight="normal" font-style="normal" fill="#000" >50</text>
<text x="895.5" y="542.6" font-size="27.7" text-anchor="middle" font-weight="normal" font-style="normal" fill="#000" >1400</text>
<text x="1070.8" y="542.6" font-size="27.7" text-anchor="middle" font-weight="normal" font-style="normal" fill="#000" >1500</text>
<text x="1246.2" y="542.6" font-size="27.7" text-anchor="middle" font-weight="normal" font-style="normal" fill="#000" >1600</text>
<text x="1421.5" y="542.6" font-size="27.7" text-anchor="middle" font-weight="normal" font-style="normal" fill="#000" >1700</text>
<path d="M895.5,275 h5.5 M1421.5,275 h-5.5 M895.5,154.2 h5.5 M1421.5,154.2 h-5.5 M895.5,33.3 h5.5 M1421.5,33.3 h-5.5 M895.5,515.2 h5.5 M1421.5,515.2 h-5.5 M895.5,395.4 h5.5 M1421.5,395.4 h-5.5 M1070.8,33.3 v5.5 M1070.8,275.0 v-5.5 M1070.8,275.0 v5.5 M1070.8,515.2 v-5.5 M1246.2,33.3 v5.5 M1246.2,275.0 v-5.5 M1246.2,275.0 v5.5 M1246.2,515.2 v-5.5" stroke="#444" stroke-width="1.3" fill="none"/>
<text x="1158.2" y="575" font-size="28.9" text-anchor="middle" font-weight="normal" font-style="normal" fill="#000" >Wavelength (nm)</text>
<text transform="translate(841.6,278.8) rotate(-90) scale(1.0,1)" font-size="29.3" text-anchor="middle">Transmission (%)</text>
<path d="M911.7,56 H945" stroke="#d9302c" stroke-width="2.8"/>
<text x="955.5" y="66.4" font-size="29.3" text-anchor="start" font-weight="normal" font-style="normal" fill="#000" >Sim. Forward</text>
<path d="M911.7,92 H945" stroke="#4a7cc0" stroke-width="2.8" stroke-dasharray="6.5 5"/>
<text x="955.5" y="101.9" font-size="29.3" text-anchor="start" font-weight="normal" font-style="normal" fill="#000" >Sim. Backward</text>
<path d="M911.7,297 H945" stroke="#d9302c" stroke-width="2.8"/>
<text x="955.5" y="307.3" font-size="29.3" text-anchor="start" font-weight="normal" font-style="normal" fill="#000" >Exp. Forward</text>
<path d="M911.7,333.5 H945" stroke="#4a78b8" stroke-width="2.8" stroke-dasharray="6.5 5"/>
<text x="955.5" y="342.8" font-size="29.3" text-anchor="start" font-weight="normal" font-style="normal" fill="#000" >Exp. Backward</text>
<text x="809.5" y="29" font-size="40.5" text-anchor="start" font-weight="bold" font-style="normal" fill="#000" >b</text>
<path d="M108.3,824.5 C108.6,826.3 110,837.1 110.5,840 C111,842.9 111.9,847.1 112.8,849 C113.7,850.9 115.9,855.8 118.1,856.5 C120.3,857.2 127.9,854.8 132,855 C136.1,855.2 148.3,857 153.3,858 C158.3,859 169.7,862.4 174.7,864 C179.7,865.6 191,870 196,871.5 C201,873 212.3,876.1 217.3,877.2 C222.3,878.3 234.5,880.1 238.7,880.6 C242.9,881.1 249.9,881.6 253.6,881.5 C257.3,881.4 266.2,880.1 270.7,879.4 C275.2,878.7 287,876.3 292,875.7 C297,875.1 308.3,874.1 313.3,874 C318.3,873.9 329.7,874.5 334.7,874.7 C339.7,874.9 351,875.3 356,875.3 C361,875.3 373.8,875.3 377.3,875.1 C380.8,874.9 384.3,874.5 385.9,873.6 C387.5,872.7 390,868.9 391.2,867.2 C392.4,865.5 395.7,861.4 396.5,859.4 C397.3,857.4 398,854.9 398.4,850.1 C398.8,845.3 399.8,828.8 400.2,818.6 C400.6,808.4 401.6,775.9 402.1,762.9 C402.6,749.9 403.9,717.1 404.5,707.1 C405.1,697.1 406.5,679.6 407.1,677.4 C407.7,675.2 408.8,684.1 409.5,688.6 C410.2,693.1 412.2,709.5 413.2,716.4 C414.2,723.3 416.7,741.3 417.9,748 C419.1,754.7 421.9,768.4 423.4,774 C424.9,779.6 429,791.5 430.9,796.3 C432.8,801.1 437.5,810.9 440.1,814.8 C442.7,818.7 449.8,826.8 453.1,829.7 C456.4,832.6 464.5,837.6 468,839.9 C471.5,842.2 479,847.1 482.9,849.2 C486.8,851.3 497.1,855.9 501.4,857.6 C505.7,859.3 514.8,862.2 520,864.1 C525.2,866 540.5,871.8 546.1,873.5 C551.7,875.2 562.8,877.9 567.9,879 C573,880.1 584.6,881.9 589.7,882.7 C594.8,883.5 606.5,885.2 611.4,885.9 C616.3,886.6 629.6,888.5 632,888.8 L632,916.4 L108.3,916.4 Z" fill="#fdebed"/>
<path d="M108.3,913 C109.8,912.9 117.3,912.4 121.3,912.4 C125.3,912.4 137.7,913.3 142.7,913 C147.7,912.7 159,910.9 164,909.9 C169,908.9 180.3,906 185.3,904.5 C190.3,903 201.7,899 206.7,897 C211.7,895 223.8,889.4 228,887.5 C232.2,885.6 239.3,882.6 243,880.6 C246.7,878.6 255.5,873.3 260,870.4 C264.5,867.5 276.3,858.6 281.3,855.9 C286.3,853.2 299,848.1 302.7,846.9 C306.4,845.7 309.6,845.3 313.3,845.4 C317,845.5 329.7,846.8 334.7,847.4 C339.7,848 351.5,850.2 356,850.3 C360.5,850.4 369.8,849.4 373,848.6 C376.2,847.8 381.7,845.3 383.7,843.7 C385.7,842.1 388.4,837 390,835.3 C391.6,833.6 396.1,829 397.4,828.8 C398.7,828.6 400.2,830.3 401.1,833.4 C402,836.5 404,850.3 404.9,855.7 C405.8,861.1 407.1,877.3 408.6,879.8 C410.1,882.3 414.7,877.8 417.9,877.1 C421.1,876.4 432.1,874 436.4,873.9 C440.7,873.8 450.7,875.3 455,876.1 C459.3,876.9 469.3,879.6 473.6,880.8 C477.9,882 488.7,885.3 492.1,886.3 C495.5,887.3 498.7,888.1 502.5,889.5 C506.3,890.9 519.2,897 524.3,898.6 C529.4,900.2 541,902.1 546.1,902.9 C551.2,903.7 562.8,905.2 567.9,905.8 C573,906.4 582.2,907.5 589.7,907.9 C597.2,908.3 627.1,909.3 632,909.5 L632,916.4 L108.3,916.4 Z" fill="#e4eefc"/>
<path d="M108.3,913 C109.8,912.9 117.3,912.4 121.3,912.4 C125.3,912.4 137.7,913.3 142.7,913 C147.7,912.7 159,910.9 164,909.9 C169,908.9 180.3,906 185.3,904.5 C190.3,903 201.7,899 206.7,897 C211.7,895 223.8,889.4 228,887.5 C232.2,885.6 239.3,882.6 243,880.6 C246.7,878.6 255.5,873.3 260,870.4 C264.5,867.5 276.3,858.6 281.3,855.9 C286.3,853.2 299,848.1 302.7,846.9 C306.4,845.7 309.6,845.3 313.3,845.4 C317,845.5 329.7,846.8 334.7,847.4 C339.7,848 351.5,850.2 356,850.3 C360.5,850.4 369.8,849.4 373,848.6 C376.2,847.8 381.7,845.3 383.7,843.7 C385.7,842.1 388.4,837 390,835.3 C391.6,833.6 396.1,829 397.4,828.8 C398.7,828.6 400.2,830.3 401.1,833.4 C402,836.5 404,850.3 404.9,855.7 C405.8,861.1 407.1,877.3 408.6,879.8 C410.1,882.3 414.7,877.8 417.9,877.1 C421.1,876.4 432.1,874 436.4,873.9 C440.7,873.8 450.7,875.3 455,876.1 C459.3,876.9 469.3,879.6 473.6,880.8 C477.9,882 488.7,885.3 492.1,886.3 C495.5,887.3 498.7,888.1 502.5,889.5 C506.3,890.9 519.2,897 524.3,898.6 C529.4,900.2 541,902.1 546.1,902.9 C551.2,903.7 562.8,905.2 567.9,905.8 C573,906.4 582.2,907.5 589.7,907.9 C597.2,908.3 627.1,909.3 632,909.5 L632,916.4 L108.3,916.4 Z" fill="#e3dfee" clip-path="url(#edclip0)"/>
<path d="M108.3,1085.1 C111.1,1084.7 126.8,1082 132,1081.9 C137.2,1081.8 148.3,1083.1 153.3,1084 C158.3,1084.9 169.7,1088 174.7,1089.3 C179.7,1090.6 191,1093.7 196,1095.1 C201,1096.5 212.3,1099.8 217.3,1101.1 C222.3,1102.4 233.7,1105.3 238.7,1106.4 C243.7,1107.5 255,1109.7 260,1110.7 C265,1111.7 276.3,1113.8 281.3,1114.9 C286.3,1116 297.7,1118.9 302.7,1120.3 C307.7,1121.7 319,1125.3 324,1126.7 C329,1128.1 340.3,1131.4 345.3,1132.6 C350.3,1133.8 362.7,1136.3 366.7,1136.9 C370.7,1137.5 376.8,1138 379.5,1137.8 C382.2,1137.6 388.2,1135.4 390.1,1135.2 C392,1135 394.6,1136.8 395.5,1136.3 C396.4,1135.8 397,1135.8 397.6,1130.9 C398.2,1126 400.1,1101.7 400.8,1094.7 C401.5,1087.7 403.4,1074.2 404,1071.2 C404.6,1068.2 405.5,1067.6 406.1,1068.6 C406.7,1069.6 408.3,1075.4 409.3,1079.7 C410.3,1084 413.5,1100.3 414.7,1105.3 C415.9,1110.3 418,1118.9 420,1122.4 C422,1125.9 429.1,1133 432.1,1135.4 C435.1,1137.8 442,1142 445.8,1143.1 C449.6,1144.2 460.2,1144.9 465,1145 C469.8,1145.1 481.2,1144.1 486.9,1143.6 C492.6,1143.1 507.8,1141.4 514.2,1140.9 C520.6,1140.4 535.2,1139.7 541.6,1139.5 C548,1139.3 562.6,1139.4 569,1139.5 C575.4,1139.6 589,1140.2 596.4,1140.4 C603.8,1140.6 627.8,1141.3 632,1141.4 L632,1157.8 L108.3,1157.8 Z" fill="#fdebed"/>
<path d="M108.3,1145.9 C110.3,1146.3 120.6,1148.4 125.6,1149.1 C130.6,1149.8 145.5,1151.8 151.2,1151.8 C156.9,1151.8 169.5,1150.3 174.7,1149.1 C179.9,1147.9 191,1144 196,1141.6 C201,1139.2 213.1,1131.7 217.3,1128.8 C221.5,1125.9 229.1,1119.8 232.3,1117.1 C235.5,1114.4 241.9,1108.7 245.1,1105.3 C248.3,1101.9 256.5,1092 260,1088.3 C263.5,1084.6 271.2,1076.8 274.9,1073.3 C278.6,1069.8 287.5,1060.9 292,1058.4 C296.5,1055.9 308.3,1052.2 313.3,1051.6 C318.3,1051 329.7,1052.5 334.7,1053.1 C339.7,1053.7 351,1055.7 356,1056.7 C361,1057.7 373.3,1060.3 377.3,1061.6 C381.3,1062.9 388,1067 390.1,1068 C392.2,1069 394.5,1070.2 395.5,1070.1 C396.5,1070 397.8,1069.8 398.7,1066.9 C399.6,1064 402,1050 403,1045.6 C404,1041.2 406.4,1031.6 407.3,1029.6 C408.2,1027.6 408.9,1027.5 410.4,1028.1 C411.9,1028.7 415.9,1031.6 420,1034.9 C424.1,1038.2 439.6,1051 445.8,1056 C452,1061 466.8,1072.8 473.2,1077.9 C479.6,1083 494.2,1095.3 500.6,1099.8 C507,1104.3 521.5,1112.9 527.9,1116.3 C534.3,1119.7 548.9,1126.1 555.3,1128.6 C561.7,1131.1 576.3,1135.9 582.7,1137.6 C589.1,1139.3 604.3,1142.1 610.1,1143.1 C615.9,1144.1 629.4,1146 632,1146.4 L632,1157.8 L108.3,1157.8 Z" fill="#e4eefc"/>
<path d="M108.3,1145.9 C110.3,1146.3 120.6,1148.4 125.6,1149.1 C130.6,1149.8 145.5,1151.8 151.2,1151.8 C156.9,1151.8 169.5,1150.3 174.7,1149.1 C179.9,1147.9 191,1144 196,1141.6 C201,1139.2 213.1,1131.7 217.3,1128.8 C221.5,1125.9 229.1,1119.8 232.3,1117.1 C235.5,1114.4 241.9,1108.7 245.1,1105.3 C248.3,1101.9 256.5,1092 260,1088.3 C263.5,1084.6 271.2,1076.8 274.9,1073.3 C278.6,1069.8 287.5,1060.9 292,1058.4 C296.5,1055.9 308.3,1052.2 313.3,1051.6 C318.3,1051 329.7,1052.5 334.7,1053.1 C339.7,1053.7 351,1055.7 356,1056.7 C361,1057.7 373.3,1060.3 377.3,1061.6 C381.3,1062.9 388,1067 390.1,1068 C392.2,1069 394.5,1070.2 395.5,1070.1 C396.5,1070 397.8,1069.8 398.7,1066.9 C399.6,1064 402,1050 403,1045.6 C404,1041.2 406.4,1031.6 407.3,1029.6 C408.2,1027.6 408.9,1027.5 410.4,1028.1 C411.9,1028.7 415.9,1031.6 420,1034.9 C424.1,1038.2 439.6,1051 445.8,1056 C452,1061 466.8,1072.8 473.2,1077.9 C479.6,1083 494.2,1095.3 500.6,1099.8 C507,1104.3 521.5,1112.9 527.9,1116.3 C534.3,1119.7 548.9,1126.1 555.3,1128.6 C561.7,1131.1 576.3,1135.9 582.7,1137.6 C589.1,1139.3 604.3,1142.1 610.1,1143.1 C615.9,1144.1 629.4,1146 632,1146.4 L632,1157.8 L108.3,1157.8 Z" fill="#e3dfee" clip-path="url(#edclip1)"/>
<path d="M108.3,824.5 C108.6,826.3 110,837.1 110.5,840 C111,842.9 111.9,847.1 112.8,849 C113.7,850.9 115.9,855.8 118.1,856.5 C120.3,857.2 127.9,854.8 132,855 C136.1,855.2 148.3,857 153.3,858 C158.3,859 169.7,862.4 174.7,864 C179.7,865.6 191,870 196,871.5 C201,873 212.3,876.1 217.3,877.2 C222.3,878.3 234.5,880.1 238.7,880.6 C242.9,881.1 249.9,881.6 253.6,881.5 C257.3,881.4 266.2,880.1 270.7,879.4 C275.2,878.7 287,876.3 292,875.7 C297,875.1 308.3,874.1 313.3,874 C318.3,873.9 329.7,874.5 334.7,874.7 C339.7,874.9 351,875.3 356,875.3 C361,875.3 373.8,875.3 377.3,875.1 C380.8,874.9 384.3,874.5 385.9,873.6 C387.5,872.7 390,868.9 391.2,867.2 C392.4,865.5 395.7,861.4 396.5,859.4 C397.3,857.4 398,854.9 398.4,850.1 C398.8,845.3 399.8,828.8 400.2,818.6 C400.6,808.4 401.6,775.9 402.1,762.9 C402.6,749.9 403.9,717.1 404.5,707.1 C405.1,697.1 406.5,679.6 407.1,677.4 C407.7,675.2 408.8,684.1 409.5,688.6 C410.2,693.1 412.2,709.5 413.2,716.4 C414.2,723.3 416.7,741.3 417.9,748 C419.1,754.7 421.9,768.4 423.4,774 C424.9,779.6 429,791.5 430.9,796.3 C432.8,801.1 437.5,810.9 440.1,814.8 C442.7,818.7 449.8,826.8 453.1,829.7 C456.4,832.6 464.5,837.6 468,839.9 C471.5,842.2 479,847.1 482.9,849.2 C486.8,851.3 497.1,855.9 501.4,857.6 C505.7,859.3 514.8,862.2 520,864.1 C525.2,866 540.5,871.8 546.1,873.5 C551.7,875.2 562.8,877.9 567.9,879 C573,880.1 584.6,881.9 589.7,882.7 C594.8,883.5 606.5,885.2 611.4,885.9 C616.3,886.6 629.6,888.5 632,888.8" fill="none" stroke="#d0292d" stroke-width="2.8" stroke-linejoin="round"/>
<path d="M108.3,913 C109.8,912.9 117.3,912.4 121.3,912.4 C125.3,912.4 137.7,913.3 142.7,913 C147.7,912.7 159,910.9 164,909.9 C169,908.9 180.3,906 185.3,904.5 C190.3,903 201.7,899 206.7,897 C211.7,895 223.8,889.4 228,887.5 C232.2,885.6 239.3,882.6 243,880.6 C246.7,878.6 255.5,873.3 260,870.4 C264.5,867.5 276.3,858.6 281.3,855.9 C286.3,853.2 299,848.1 302.7,846.9 C306.4,845.7 309.6,845.3 313.3,845.4 C317,845.5 329.7,846.8 334.7,847.4 C339.7,848 351.5,850.2 356,850.3 C360.5,850.4 369.8,849.4 373,848.6 C376.2,847.8 381.7,845.3 383.7,843.7 C385.7,842.1 388.4,837 390,835.3 C391.6,833.6 396.1,829 397.4,828.8 C398.7,828.6 400.2,830.3 401.1,833.4 C402,836.5 404,850.3 404.9,855.7 C405.8,861.1 407.1,877.3 408.6,879.8 C410.1,882.3 414.7,877.8 417.9,877.1 C421.1,876.4 432.1,874 436.4,873.9 C440.7,873.8 450.7,875.3 455,876.1 C459.3,876.9 469.3,879.6 473.6,880.8 C477.9,882 488.7,885.3 492.1,886.3 C495.5,887.3 498.7,888.1 502.5,889.5 C506.3,890.9 519.2,897 524.3,898.6 C529.4,900.2 541,902.1 546.1,902.9 C551.2,903.7 562.8,905.2 567.9,905.8 C573,906.4 582.2,907.5 589.7,907.9 C597.2,908.3 627.1,909.3 632,909.5" fill="none" stroke="#3b70b8" stroke-width="2.8" stroke-linejoin="round"/>
<path d="M108.3,1085.1 C111.1,1084.7 126.8,1082 132,1081.9 C137.2,1081.8 148.3,1083.1 153.3,1084 C158.3,1084.9 169.7,1088 174.7,1089.3 C179.7,1090.6 191,1093.7 196,1095.1 C201,1096.5 212.3,1099.8 217.3,1101.1 C222.3,1102.4 233.7,1105.3 238.7,1106.4 C243.7,1107.5 255,1109.7 260,1110.7 C265,1111.7 276.3,1113.8 281.3,1114.9 C286.3,1116 297.7,1118.9 302.7,1120.3 C307.7,1121.7 319,1125.3 324,1126.7 C329,1128.1 340.3,1131.4 345.3,1132.6 C350.3,1133.8 362.7,1136.3 366.7,1136.9 C370.7,1137.5 376.8,1138 379.5,1137.8 C382.2,1137.6 388.2,1135.4 390.1,1135.2 C392,1135 394.6,1136.8 395.5,1136.3 C396.4,1135.8 397,1135.8 397.6,1130.9 C398.2,1126 400.1,1101.7 400.8,1094.7 C401.5,1087.7 403.4,1074.2 404,1071.2 C404.6,1068.2 405.5,1067.6 406.1,1068.6 C406.7,1069.6 408.3,1075.4 409.3,1079.7 C410.3,1084 413.5,1100.3 414.7,1105.3 C415.9,1110.3 418,1118.9 420,1122.4 C422,1125.9 429.1,1133 432.1,1135.4 C435.1,1137.8 442,1142 445.8,1143.1 C449.6,1144.2 460.2,1144.9 465,1145 C469.8,1145.1 481.2,1144.1 486.9,1143.6 C492.6,1143.1 507.8,1141.4 514.2,1140.9 C520.6,1140.4 535.2,1139.7 541.6,1139.5 C548,1139.3 562.6,1139.4 569,1139.5 C575.4,1139.6 589,1140.2 596.4,1140.4 C603.8,1140.6 627.8,1141.3 632,1141.4" fill="none" stroke="#d0292d" stroke-width="2.8" stroke-linejoin="round"/>
<path d="M108.3,1145.9 C110.3,1146.3 120.6,1148.4 125.6,1149.1 C130.6,1149.8 145.5,1151.8 151.2,1151.8 C156.9,1151.8 169.5,1150.3 174.7,1149.1 C179.9,1147.9 191,1144 196,1141.6 C201,1139.2 213.1,1131.7 217.3,1128.8 C221.5,1125.9 229.1,1119.8 232.3,1117.1 C235.5,1114.4 241.9,1108.7 245.1,1105.3 C248.3,1101.9 256.5,1092 260,1088.3 C263.5,1084.6 271.2,1076.8 274.9,1073.3 C278.6,1069.8 287.5,1060.9 292,1058.4 C296.5,1055.9 308.3,1052.2 313.3,1051.6 C318.3,1051 329.7,1052.5 334.7,1053.1 C339.7,1053.7 351,1055.7 356,1056.7 C361,1057.7 373.3,1060.3 377.3,1061.6 C381.3,1062.9 388,1067 390.1,1068 C392.2,1069 394.5,1070.2 395.5,1070.1 C396.5,1070 397.8,1069.8 398.7,1066.9 C399.6,1064 402,1050 403,1045.6 C404,1041.2 406.4,1031.6 407.3,1029.6 C408.2,1027.6 408.9,1027.5 410.4,1028.1 C411.9,1028.7 415.9,1031.6 420,1034.9 C424.1,1038.2 439.6,1051 445.8,1056 C452,1061 466.8,1072.8 473.2,1077.9 C479.6,1083 494.2,1095.3 500.6,1099.8 C507,1104.3 521.5,1112.9 527.9,1116.3 C534.3,1119.7 548.9,1126.1 555.3,1128.6 C561.7,1131.1 576.3,1135.9 582.7,1137.6 C589.1,1139.3 604.3,1142.1 610.1,1143.1 C615.9,1144.1 629.4,1146 632,1146.4" fill="none" stroke="#3b70b8" stroke-width="2.8" stroke-linejoin="round"/>
<rect x="107.5" y="674.8" width="524.5" height="483.0" fill="none" stroke="#6a6a6a" stroke-width="1.4"/>
<path d="M107.5,916.4 H632.0" stroke="#444" stroke-width="1.6"/>
<path d="M282.6,674.8 v5.5 M282.6,916.4 v-5.5 M282.6,916.4 v5.5 M282.6,1157.8 v-5.5 M456.8,674.8 v5.5 M456.8,916.4 v-5.5 M456.8,916.4 v5.5 M456.8,1157.8 v-5.5" stroke="#333" stroke-width="1.5" fill="none"/>
<text x="108.4" y="1184.6" font-size="27.5" text-anchor="middle" font-weight="normal" font-style="normal" fill="#000" >1400</text>
<text x="282.6" y="1184.6" font-size="27.5" text-anchor="middle" font-weight="normal" font-style="normal" fill="#000" >1500</text>
<text x="456.8" y="1184.6" font-size="27.5" text-anchor="middle" font-weight="normal" font-style="normal" fill="#000" >1600</text>
<text x="631" y="1184.6" font-size="27.5" text-anchor="middle" font-weight="normal" font-style="normal" fill="#000" >1700</text>
<text x="370" y="1218.4" font-size="28.9" text-anchor="middle" font-weight="normal" font-style="normal" fill="#000" >Wavelength (nm)</text>
<text transform="translate(75.1,904.8) rotate(-90) scale(1.0,1)" font-size="29" text-anchor="middle">Scattering power (arb. units)</text>
<text x="625.4" y="703.9" font-size="30.3" text-anchor="end" font-weight="normal" font-style="normal" fill="#000" >Forward</text>
<text x="625" y="945.2" font-size="30.3" text-anchor="end" font-weight="normal" font-style="normal" fill="#000" >Backward</text>
<path d="M529.7,797.3 H570" stroke="#d0292d" stroke-width="2.8"/>
<text x="576.4" y="807" font-size="30.2" text-anchor="start" font-weight="normal" font-style="normal" fill="#000" >ED</text>
<path d="M529.7,832.8 H570" stroke="#3b70b8" stroke-width="2.8"/>
<text x="576.4" y="842" font-size="30.2" text-anchor="start" font-weight="normal" font-style="normal" fill="#000" >MD</text>
<text x="53.5" y="657" font-size="40.5" text-anchor="start" font-weight="bold" font-style="normal" fill="#000" >c</text>
<g clip-path="url(#hexc0)">
<rect x="123.2" y="685.3" width="120" height="140" fill="#4171b3"/>
<ellipse cx="183.2" cy="757.8" rx="52" ry="58" fill="#5a8bc8" opacity="0.6" filter="url(#blur6)"/>
<ellipse cx="183.2" cy="757.8" rx="44" ry="49" fill="url(#halo)"/>
<ellipse cx="156.2" cy="753.8" rx="6" ry="9" fill="#8fb8e0" filter="url(#blur3)"/>
<ellipse cx="210.2" cy="753.8" rx="6" ry="9" fill="#8fb8e0" filter="url(#blur3)"/>
<path d="M150.2,758.8 A33,33 0 0 0 216.2,758.8 L204.2,762.8 A21,12.5 0 0 1 162.2,762.8 Z" fill="url(#ringg0)" filter="url(#blur1)"/>
<ellipse cx="153.2" cy="756.8" rx="6" ry="5" fill="#e9f0f0" filter="url(#blur3)" opacity="0.8"/>
<ellipse cx="213.2" cy="756.8" rx="6" ry="5" fill="#e9f0f0" filter="url(#blur3)" opacity="0.8"/>
<ellipse cx="183.2" cy="769.8" rx="12" ry="6" fill="#b8d3ea" filter="url(#blur1)"/>
<ellipse cx="183.2" cy="770.1" rx="7.5" ry="3.4" fill="#4170b2" filter="url(#blur1)"/>
<path d="M153.5,732.3 Q183.2,729.3 212.2,734.5 A29.4,22.5 0 0 1 153.5,732.3 Z" fill="url(#cresg)" filter="url(#blur1)"/>
<ellipse cx="183.2" cy="754.3" rx="11" ry="4.5" fill="#d9482f" filter="url(#blur3)" opacity="0.9"/>
<circle cx="153.5" cy="732.3" r="2.2" fill="#c8402c"/><circle cx="212.2" cy="734.5" r="2.2" fill="#c8402c"/>
<path d="M153.5,732.3 A37,37 0 1 0 212.2,734.5" fill="none" stroke="#3a3a3a" stroke-width="0.7" opacity="0.8"/>
</g>
<path d="M183.2,685.3 L240.1,719 L240.1,789.4 L183.2,823.1 L126.4,789.4 L126.4,719 Z" fill="none" stroke="#8a6a8a" stroke-width="0.6" opacity="0.45"/>
<rect x="248.6" y="685.2" width="9.3" height="135.9" fill="url(#cbc)"/>
<text x="258.4" y="703.7" font-size="23.2" text-anchor="start" font-weight="normal" font-style="normal" fill="#000" >16.4</text>
<text x="260.3" y="821.7" font-size="23" text-anchor="start" font-weight="normal" font-style="normal" fill="#000" >0</text>
<text transform="translate(268.5,720.7) rotate(90)" font-size="22"><tspan>|</tspan><tspan font-style="italic">E</tspan><tspan font-size="15" dy="7">F</tspan><tspan dy="-7">/</tspan><tspan font-style="italic">E</tspan><tspan font-size="15" dy="7">0</tspan><tspan dy="-7">|</tspan></text>
<path d="M116.9,825.5 V793.6 M116,824.6 H146.9" stroke="#000" stroke-width="1.8" fill="none"/>
<path d="M116.9,786.1 l-3.8,8.5 h7.6 Z M154.7,824.6 l-8.5,-3.8 v7.6 Z" fill="#000"/>
<text x="113.7" y="780.8" font-size="20.2" text-anchor="start" font-weight="normal" font-style="italic" fill="#000" >y</text>
<text x="156.5" y="830.5" font-size="20.4" text-anchor="start" font-weight="normal" font-style="italic" fill="#000" >x</text>
<g clip-path="url(#hexc241)">
<rect x="123.2" y="926.9" width="120" height="140" fill="#4171b3"/>
<ellipse cx="183.2" cy="999.4" rx="52" ry="58" fill="#5a8bc8" opacity="0.6" filter="url(#blur6)"/>
<ellipse cx="183.2" cy="999.4" rx="44" ry="49" fill="url(#halo)"/>
<ellipse cx="156.2" cy="995.4" rx="6" ry="9" fill="#8fb8e0" filter="url(#blur3)"/>
<ellipse cx="210.2" cy="995.4" rx="6" ry="9" fill="#8fb8e0" filter="url(#blur3)"/>
<path d="M150.2,1000.4 A33,33 0 0 0 216.2,1000.4 L204.2,1004.4 A21,12.5 0 0 1 162.2,1004.4 Z" fill="url(#ringg241)" filter="url(#blur1)"/>
<ellipse cx="153.2" cy="998.4" rx="6" ry="5" fill="#e9f0f0" filter="url(#blur3)" opacity="0.8"/>
<ellipse cx="213.2" cy="998.4" rx="6" ry="5" fill="#e9f0f0" filter="url(#blur3)" opacity="0.8"/>
<ellipse cx="183.2" cy="1011.4" rx="12" ry="6" fill="#b8d3ea" filter="url(#blur1)"/>
<ellipse cx="183.2" cy="1011.7" rx="7.5" ry="3.4" fill="#4170b2" filter="url(#blur1)"/>
<path d="M153.5,973.9 Q183.2,970.9 212.2,976.1 A29.4,22.5 0 0 1 153.5,973.9 Z" fill="url(#cresg)" filter="url(#blur1)"/>
<ellipse cx="183.2" cy="995.9" rx="11" ry="4.5" fill="#d9482f" filter="url(#blur3)" opacity="0.9"/>
<circle cx="153.5" cy="973.9" r="2.2" fill="#c8402c"/><circle cx="212.2" cy="976.1" r="2.2" fill="#c8402c"/>
<path d="M153.5,973.9 A37,37 0 1 0 212.2,976.1" fill="none" stroke="#3a3a3a" stroke-width="0.7" opacity="0.8"/>
</g>
<path d="M183.2,926.9 L240.1,960.6 L240.1,1031 L183.2,1064.7 L126.4,1031 L126.4,960.6 Z" fill="none" stroke="#8a6a8a" stroke-width="0.6" opacity="0.45"/>
<rect x="248.6" y="926.3" width="9.3" height="136.5" fill="url(#cbc)"/>
<text x="258.4" y="944.8" font-size="23.2" text-anchor="start" font-weight="normal" font-style="normal" fill="#000" >11.9</text>
<text x="260.3" y="1063.4" font-size="23" text-anchor="start" font-weight="normal" font-style="normal" fill="#000" >0</text>
<text transform="translate(268.5,961.8) rotate(90)" font-size="22"><tspan>|</tspan><tspan font-style="italic">E</tspan><tspan font-size="15" dy="7">B</tspan><tspan dy="-7">/</tspan><tspan font-style="italic">E</tspan><tspan font-size="15" dy="7">0</tspan><tspan dy="-7">|</tspan></text>
<path d="M116.9,1067.1 V1035.2 M116,1066.2 H146.9" stroke="#000" stroke-width="1.8" fill="none"/>
<path d="M116.9,1027.7 l-3.8,8.5 h7.6 Z M154.7,1066.2 l-8.5,-3.8 v7.6 Z" fill="#000"/>
<text x="113.7" y="1022.4" font-size="20.2" text-anchor="start" font-weight="normal" font-style="italic" fill="#000" >y</text>
<text x="156.5" y="1072.1" font-size="20.4" text-anchor="start" font-weight="normal" font-style="italic" fill="#000" >x</text>
<g clip-path="url(#dclip)"><rect x="881.8" y="608.0" width="521.2" height="200" fill="#8094a2"/>
<rect x="881.8" y="1088.0" width="521.2" height="120" fill="#030305"/>
<use href="#hcol" x="881.8" y="-6"/>
<use href="#hcol" x="884.8" y="-5.9"/>
<use href="#hcol" x="887.8" y="-5.9"/>
<use href="#hcol" x="890.8" y="-5.8"/>
<use href="#hcol" x="893.8" y="-5.6"/>
<use href="#hcol" x="896.8" y="-5.5"/>
<use href="#hcol" x="899.8" y="-5.3"/>
<use href="#hcol" x="902.8" y="-5.2"/>
<use href="#hcol" x="905.8" y="-5"/>
<use href="#hcol" x="908.8" y="-4.8"/>
<use href="#hcol" x="911.8" y="-4.6"/>
<use href="#hcol" x="914.8" y="-4.4"/>
<use href="#hcol" x="917.8" y="-4.2"/>
<use href="#hcol" x="920.8" y="-4"/>
<use href="#hcol" x="923.8" y="-3.9"/>
<use href="#hcol" x="926.8" y="-3.7"/>
<use href="#hcol" x="929.8" y="-3.5"/>
<use href="#hcol" x="932.8" y="-3.4"/>
<use href="#hcol" x="935.8" y="-3.3"/>
<use href="#hcol" x="938.8" y="-3.2"/>
<use href="#hcol" x="941.8" y="-3.1"/>
<use href="#hcol" x="944.8" y="-3"/>
<use href="#hcol" x="947.8" y="-3"/>
<use href="#hcol" x="950.8" y="-3"/>
<use href="#hcol" x="953.8" y="-2.9"/>
<use href="#hcol" x="956.8" y="-2.8"/>
<use href="#hcol" x="959.8" y="-2.6"/>
<use href="#hcol" x="962.8" y="-2.4"/>
<use href="#hcol" x="965.8" y="-2.2"/>
<use href="#hcol" x="968.8" y="-1.9"/>
<use href="#hcol" x="971.8" y="-1.7"/>
<use href="#hcol" x="974.8" y="-1.4"/>
<use href="#hcol" x="977.8" y="-1.1"/>
<use href="#hcol" x="980.8" y="-0.9"/>
<use href="#hcol" x="983.8" y="-0.6"/>
<use href="#hcol" x="986.8" y="-0.4"/>
<use href="#hcol" x="989.8" y="-0.2"/>
<use href="#hcol" x="992.8" y="-0.1"/>
<use href="#hcol" x="995.8" y="-0"/>
<use href="#hcol" x="998.8" y="0"/>
<use href="#hcol" x="1001.8" y="0"/>
<use href="#hcol" x="1004.8" y="0"/>
<use href="#hcol" x="1007.8" y="0.1"/>
<use href="#hcol" x="1010.8" y="0.1"/>
<use href="#hcol" x="1013.8" y="0.2"/>
<use href="#hcol" x="1016.8" y="0.2"/>
<use href="#hcol" x="1019.8" y="0.3"/>
<use href="#hcol" x="1022.8" y="0.4"/>
<use href="#hcol" x="1025.8" y="0.4"/>
<use href="#hcol" x="1028.8" y="0.5"/>
<use href="#hcol" x="1031.8" y="0.6"/>
<use href="#hcol" x="1034.8" y="0.7"/>
<use href="#hcol" x="1037.8" y="0.7"/>
<use href="#hcol" x="1040.8" y="0.8"/>
<use href="#hcol" x="1043.8" y="0.8"/>
<use href="#hcol" x="1046.8" y="0.9"/>
<use href="#hcol" x="1049.8" y="0.9"/>
<use href="#hcol" x="1052.8" y="1"/>
<use href="#hcol" x="1055.8" y="1"/>
<use href="#hcol" x="1058.8" y="1"/>
<use href="#hcol" x="1061.8" y="1"/>
<use href="#hcol" x="1064.8" y="1"/>
<use href="#hcol" x="1067.8" y="0.9"/>
<use href="#hcol" x="1070.8" y="0.8"/>
<use href="#hcol" x="1073.8" y="0.8"/>
<use href="#hcol" x="1076.8" y="0.7"/>
<use href="#hcol" x="1079.8" y="0.6"/>
<use href="#hcol" x="1082.8" y="0.5"/>
<use href="#hcol" x="1085.8" y="0.4"/>
<use href="#hcol" x="1088.8" y="0.3"/>
<use href="#hcol" x="1091.8" y="0.3"/>
<use href="#hcol" x="1094.8" y="0.2"/>
<use href="#hcol" x="1097.8" y="0.1"/>
<use href="#hcol" x="1100.8" y="0.1"/>
<use href="#hcol" x="1103.8" y="0"/>
<use href="#hcol" x="1106.8" y="0"/>
<use href="#hcol" x="1109.8" y="-0"/>
<use href="#hcol" x="1112.8" y="-0.1"/>
<use href="#hcol" x="1115.8" y="-0.2"/>
<use href="#hcol" x="1118.8" y="-0.3"/>
<use href="#hcol" x="1121.8" y="-0.5"/>
<use href="#hcol" x="1124.8" y="-0.7"/>
<use href="#hcol" x="1127.8" y="-1"/>
<use href="#hcol" x="1130.8" y="-1.2"/>
<use href="#hcol" x="1133.8" y="-1.5"/>
<use href="#hcol" x="1136.8" y="-1.8"/>
<use href="#hcol" x="1139.8" y="-2.1"/>
<use href="#hcol" x="1142.8" y="-2.4"/>
<use href="#hcol" x="1145.8" y="-2.7"/>
<use href="#hcol" x="1148.8" y="-3"/>
<use href="#hcol" x="1151.8" y="-3.2"/>
<use href="#hcol" x="1154.8" y="-3.5"/>
<use href="#hcol" x="1157.8" y="-3.7"/>
<use href="#hcol" x="1160.8" y="-3.8"/>
<use href="#hcol" x="1163.8" y="-3.9"/>
<use href="#hcol" x="1166.8" y="-4"/>
<use href="#hcol" x="1169.8" y="-4"/>
<use href="#hcol" x="1172.8" y="-4.1"/>
<use href="#hcol" x="1175.8" y="-4.2"/>
<use href="#hcol" x="1178.8" y="-4.3"/>
<use href="#hcol" x="1181.8" y="-4.5"/>
<use href="#hcol" x="1184.8" y="-4.7"/>
<use href="#hcol" x="1187.8" y="-5"/>
<use href="#hcol" x="1190.8" y="-5.2"/>
<use href="#hcol" x="1193.8" y="-5.5"/>
<use href="#hcol" x="1196.8" y="-5.8"/>
<use href="#hcol" x="1199.8" y="-6.1"/>
<use href="#hcol" x="1202.8" y="-6.4"/>
<use href="#hcol" x="1205.8" y="-6.7"/>
<use href="#hcol" x="1208.8" y="-7"/>
<use href="#hcol" x="1211.8" y="-7.2"/>
<use href="#hcol" x="1214.8" y="-7.5"/>
<use href="#hcol" x="1217.8" y="-7.7"/>
<use href="#hcol" x="1220.8" y="-7.8"/>
<use href="#hcol" x="1223.8" y="-7.9"/>
<use href="#hcol" x="1226.8" y="-8"/>
<use href="#hcol" x="1229.8" y="-8"/>
<use href="#hcol" x="1232.8" y="-8"/>
<use href="#hcol" x="1235.8" y="-8.1"/>
<use href="#hcol" x="1238.8" y="-8.1"/>
<use href="#hcol" x="1241.8" y="-8.2"/>
<use href="#hcol" x="1244.8" y="-8.3"/>
<use href="#hcol" x="1247.8" y="-8.4"/>
<use href="#hcol" x="1250.8" y="-8.5"/>
<use href="#hcol" x="1253.8" y="-8.6"/>
<use href="#hcol" x="1256.8" y="-8.7"/>
<use href="#hcol" x="1259.8" y="-8.8"/>
<use href="#hcol" x="1262.8" y="-9"/>
<use href="#hcol" x="1265.8" y="-9.1"/>
<use href="#hcol" x="1268.8" y="-9.2"/>
<use href="#hcol" x="1271.8" y="-9.3"/>
<use href="#hcol" x="1274.8" y="-9.5"/>
<use href="#hcol" x="1277.8" y="-9.6"/>
<use href="#hcol" x="1280.8" y="-9.7"/>
<use href="#hcol" x="1283.8" y="-9.8"/>
<use href="#hcol" x="1286.8" y="-9.9"/>
<use href="#hcol" x="1289.8" y="-9.9"/>
<use href="#hcol" x="1292.8" y="-10"/>
<use href="#hcol" x="1295.8" y="-10"/>
<use href="#hcol" x="1298.8" y="-10"/>
<use href="#hcol" x="1301.8" y="-10"/>
<use href="#hcol" x="1304.8" y="-10.1"/>
<use href="#hcol" x="1307.8" y="-10.1"/>
<use href="#hcol" x="1310.8" y="-10.2"/>
<use href="#hcol" x="1313.8" y="-10.3"/>
<use href="#hcol" x="1316.8" y="-10.4"/>
<use href="#hcol" x="1319.8" y="-10.5"/>
<use href="#hcol" x="1322.8" y="-10.7"/>
<use href="#hcol" x="1325.8" y="-10.8"/>
<use href="#hcol" x="1328.8" y="-10.9"/>
<use href="#hcol" x="1331.8" y="-10.9"/>
<use href="#hcol" x="1334.8" y="-11"/>
<use href="#hcol" x="1337.8" y="-11"/>
<use href="#hcol" x="1340.8" y="-11"/>
<use href="#hcol" x="1343.8" y="-11"/>
<use href="#hcol" x="1346.8" y="-11.1"/>
<use href="#hcol" x="1349.8" y="-11.2"/>
<use href="#hcol" x="1352.8" y="-11.2"/>
<use href="#hcol" x="1355.8" y="-11.3"/>
<use href="#hcol" x="1358.8" y="-11.5"/>
<use href="#hcol" x="1361.8" y="-11.6"/>
<use href="#hcol" x="1364.8" y="-11.7"/>
<use href="#hcol" x="1367.8" y="-11.9"/>
<use href="#hcol" x="1370.8" y="-12"/>
<use href="#hcol" x="1373.8" y="-12.1"/>
<use href="#hcol" x="1376.8" y="-12.3"/>
<use href="#hcol" x="1379.8" y="-12.4"/>
<use href="#hcol" x="1382.8" y="-12.5"/>
<use href="#hcol" x="1385.8" y="-12.6"/>
<use href="#hcol" x="1388.8" y="-12.7"/>
<use href="#hcol" x="1391.8" y="-12.8"/>
<use href="#hcol" x="1394.8" y="-12.9"/>
<use href="#hcol" x="1397.8" y="-13"/>
<use href="#hcol" x="1400.8" y="-13"/>
</g>
<rect x="881.8" y="688.0" width="521.2" height="480.0" fill="none" stroke="#111" stroke-width="2"/>
<path d="M968.7,688.0 v5.5 M968.7,1168.0 v-5.5 M1055.5,688.0 v5.5 M1055.5,1168.0 v-5.5 M1142.4,688.0 v5.5 M1142.4,1168.0 v-5.5 M1229.3,688.0 v5.5 M1229.3,1168.0 v-5.5 M1316.1,688.0 v5.5 M1316.1,1168.0 v-5.5 M881.8,1048 h5.5 M881.8,928 h5.5 M881.8,808 h5.5" stroke="#111" stroke-width="1.5" fill="none"/>
<rect x="932.6" y="1120" width="14.3" height="14.3" fill="#76c7a2"/>
<rect x="990.5" y="1081.6" width="14.3" height="14.3" fill="#76c7a2"/>
<rect x="1048.4" y="1040.8" width="14.3" height="14.3" fill="#76c7a2"/>
<rect x="1106.3" y="1001.1" width="14.3" height="14.3" fill="#76c7a2"/>
<rect x="1164.2" y="960.6" width="14.3" height="14.3" fill="#76c7a2"/>
<rect x="1222.1" y="919.9" width="14.3" height="14.3" fill="#76c7a2"/>
<rect x="1280" y="881.1" width="14.3" height="14.3" fill="#76c7a2"/>
<rect x="1337.9" y="841.1" width="14.3" height="14.3" fill="#76c7a2"/>
<rect x="1395.8" y="800.2" width="14.3" height="14.3" fill="#76c7a2"/>
<circle cx="939.7" cy="1139.2" r="8" fill="url(#rbg)"/>
<circle cx="997.6" cy="1114.2" r="8" fill="url(#rbg)"/>
<circle cx="1055.5" cy="1087.4" r="8" fill="url(#rbg)"/>
<circle cx="1113.4" cy="1058.6" r="8" fill="url(#rbg)"/>
<circle cx="1171.4" cy="1033.6" r="8" fill="url(#rbg)"/>
<circle cx="1229.3" cy="1005.8" r="8" fill="url(#rbg)"/>
<circle cx="1287.2" cy="978.4" r="8" fill="url(#rbg)"/>
<circle cx="1345.1" cy="953" r="8" fill="url(#rbg)"/>
<circle cx="1403" cy="928" r="8" fill="url(#rbg)"/>
<path d="M939.7,1120.7 L948.9,1129.6 L939.7,1138.5 L930.5,1129.6 Z" fill="#92bfe0"/>
<path d="M997.6,1099.1 L1006.8,1108 L997.6,1116.9 L988.4,1108 Z" fill="#92bfe0"/>
<path d="M1055.5,1079.9 L1064.7,1088.8 L1055.5,1097.7 L1046.3,1088.8 Z" fill="#92bfe0"/>
<path d="M1113.4,1040.5 L1122.6,1049.4 L1113.4,1058.3 L1104.2,1049.4 Z" fill="#92bfe0"/>
<path d="M1171.4,1018.5 L1180.6,1027.4 L1171.4,1036.3 L1162.2,1027.4 Z" fill="#92bfe0"/>
<path d="M1229.3,998.3 L1238.5,1007.2 L1229.3,1016.1 L1220.1,1007.2 Z" fill="#92bfe0"/>
<path d="M1287.2,959.9 L1296.4,968.8 L1287.2,977.7 L1278,968.8 Z" fill="#92bfe0"/>
<path d="M1345.1,938.3 L1354.3,947.2 L1345.1,956.1 L1335.9,947.2 Z" fill="#92bfe0"/>
<path d="M1403,919.1 L1412.2,928 L1403,936.9 L1393.8,928 Z" fill="#92bfe0"/>
<path d="M939.7,1144.4 L948.7,1160 L930.7,1160 Z" fill="#f98a55"/>
<path d="M997.6,1130 L1006.6,1145.6 L988.6,1145.6 Z" fill="#f98a55"/>
<path d="M1055.5,1118.4 L1064.5,1134 L1046.5,1134 Z" fill="#f98a55"/>
<path d="M1113.4,1104 L1122.4,1119.6 L1104.4,1119.6 Z" fill="#f98a55"/>
<path d="M1171.4,1089.6 L1180.4,1105.2 L1162.4,1105.2 Z" fill="#f98a55"/>
<path d="M1229.3,1078.6 L1238.3,1094.2 L1220.3,1094.2 Z" fill="#f98a55"/>
<path d="M1287.2,1064.2 L1296.2,1079.8 L1278.2,1079.8 Z" fill="#f98a55"/>
<path d="M1345.1,1049.8 L1354.1,1065.4 L1336.1,1065.4 Z" fill="#f98a55"/>
<path d="M1403,1037.8 L1412,1053.4 L1394,1053.4 Z" fill="#f98a55"/>
<path d="M939.7,1091 L948.5,1097.4 L945.1,1107.7 L934.3,1107.7 L931,1097.4 Z" fill="#2c4a7c"/>
<path d="M997.6,1040.6 L1006.4,1047 L1003,1057.3 L992.2,1057.3 L988.9,1047 Z" fill="#2c4a7c"/>
<path d="M1055.5,999.8 L1064.3,1006.2 L1060.9,1016.5 L1050.1,1016.5 L1046.8,1006.2 Z" fill="#2c4a7c"/>
<path d="M1113.4,930.6 L1122.2,937 L1118.9,947.3 L1108,947.3 L1104.7,937 Z" fill="#2c4a7c"/>
<path d="M1171.4,881.2 L1180.1,887.6 L1176.8,897.9 L1165.9,897.9 L1162.6,887.6 Z" fill="#2c4a7c"/>
<path d="M1229.3,838.8 L1238,845.2 L1234.7,855.5 L1223.9,855.5 L1220.5,845.2 Z" fill="#2c4a7c"/>
<path d="M1287.2,771.6 L1295.9,778 L1292.6,788.3 L1281.8,788.3 L1278.4,778 Z" fill="#2c4a7c"/>
<path d="M1345.1,720.2 L1353.8,726.6 L1350.5,736.9 L1339.7,736.9 L1336.3,726.6 Z" fill="#2c4a7c"/>
<path d="M1403,679.4 L1411.7,685.8 L1408.4,696.1 L1397.6,696.1 L1394.3,685.8 Z" fill="#2c4a7c"/>
<rect x="876.3" y="1160.5" width="13" height="13" fill="#76c7a2"/>
<path d="M882.8,1160.2 L891.8,1175.8 L873.8,1175.8 Z" fill="#f98a55"/>
<path d="M881.8,1158.6 L890.5,1165 L887.2,1175.3 L876.4,1175.3 L873.1,1165 Z" fill="#2c4a7c"/>
<text x="875.5" y="1176.8" font-size="29.5" text-anchor="end" font-weight="normal" font-style="normal" fill="#000" >1550</text>
<text x="875.5" y="1056.8" font-size="29.5" text-anchor="end" font-weight="normal" font-style="normal" fill="#000" >1560</text>
<text x="875.5" y="936.8" font-size="29.5" text-anchor="end" font-weight="normal" font-style="normal" fill="#000" >1570</text>
<text x="875.5" y="816.8" font-size="29.5" text-anchor="end" font-weight="normal" font-style="normal" fill="#000" >1580</text>
<text x="875.5" y="696.8" font-size="29.5" text-anchor="end" font-weight="normal" font-style="normal" fill="#000" >1590</text>
<text x="881.8" y="1197" font-size="29.5" text-anchor="middle" font-weight="normal" font-style="normal" fill="#000" >0</text>
<text x="968.7" y="1197" font-size="29.5" text-anchor="middle" font-weight="normal" font-style="normal" fill="#000" >30</text>
<text x="1055.5" y="1197" font-size="29.5" text-anchor="middle" font-weight="normal" font-style="normal" fill="#000" >60</text>
<text x="1142.4" y="1197" font-size="29.5" text-anchor="middle" font-weight="normal" font-style="normal" fill="#000" >90</text>
<text x="1229.3" y="1197" font-size="29.5" text-anchor="middle" font-weight="normal" font-style="normal" fill="#000" >120</text>
<text x="1316.1" y="1197" font-size="29.5" text-anchor="middle" font-weight="normal" font-style="normal" fill="#000" >150</text>
<text x="1403" y="1197" font-size="29.5" text-anchor="middle" font-weight="normal" font-style="normal" fill="#000" >180</text>
<text x="1409.5" y="1176.8" font-size="29.6" text-anchor="start" font-weight="normal" font-style="normal" fill="#000" >0</text>
<text x="1409.5" y="1056.8" font-size="29.6" text-anchor="start" font-weight="normal" font-style="normal" fill="#000" >180</text>
<text x="1409.5" y="936.8" font-size="29.6" text-anchor="start" font-weight="normal" font-style="normal" fill="#000" >360</text>
<text x="1409.5" y="816.8" font-size="29.6" text-anchor="start" font-weight="normal" font-style="normal" fill="#000" >540</text>
<text x="1409.5" y="696.8" font-size="29.6" text-anchor="start" font-weight="normal" font-style="normal" fill="#000" >720</text>
<text x="1143.2" y="1232.4" font-size="32.2" text-anchor="middle" font-weight="normal" font-style="normal" fill="#000" >Rotation angle (°)</text>
<text transform="translate(796.5,924.3) rotate(-90) scale(1.0,1)" font-size="33" text-anchor="middle">Wavelength (nm)</text>
<text transform="translate(1493.3,926.9) rotate(-90) scale(1.0,1)" font-size="32.8" text-anchor="middle">Phase (°)</text>
<rect x="882" y="656.5" width="521" height="18.5" fill="url(#cbd)"/>
<path d="M1229.3,657.4 H1403.2 V674.9 H1229.3" fill="none" stroke="#444" stroke-width="0.9"/>
<text x="882.3" y="648.2" font-size="28.4" text-anchor="start" font-weight="normal" font-style="normal" fill="#000" >36.2</text>
<text x="1403.8" y="648.2" font-size="28.4" text-anchor="end" font-weight="normal" font-style="normal" fill="#000" >83.8</text>
<text x="1148.3" y="643.6" font-size="33.2" text-anchor="middle" font-weight="normal" font-style="normal" fill="#000" >Transmission (%)</text>
<circle cx="905" cy="708.7" r="7.9" fill="url(#rbg)"/>
<path d="M905,730.9 L913.5,745.7 L896.5,745.7 Z" fill="#f98a55"/>
<rect x="897.6" y="764.2" width="14.8" height="14.8" fill="#76c7a2"/>
<path d="M905,792.7 L913.6,801.2 L905,809.7 L896.4,801.2 Z" fill="#92bfe0"/>
<path d="M905,824.8 L913.7,831.2 L910.4,841.5 L899.6,841.5 L896.3,831.2 Z" fill="#2c4a7c"/>
<text x="935" y="716.6" font-size="25" text-anchor="start" font-weight="normal" font-style="normal" fill="#000" >Linear-LCP</text>
<text x="935" y="746.9" font-size="25" text-anchor="start" font-weight="normal" font-style="normal" fill="#000" >SHG-RCP</text>
<text x="935" y="778.5" font-size="25" text-anchor="start" font-weight="normal" font-style="normal" fill="#000" >SHG-LCP</text>
<text x="935" y="809.3" font-size="25" text-anchor="start" font-weight="normal" font-style="normal" fill="#000" >THG-RCP</text>
<text x="935" y="840.6" font-size="25" text-anchor="start" font-weight="normal" font-style="normal" fill="#000" >THG-LCP</text>
<text x="804" y="656.5" font-size="40.5" text-anchor="start" font-weight="bold" font-style="normal" fill="#000" >d</text>
</svg></body></html>
